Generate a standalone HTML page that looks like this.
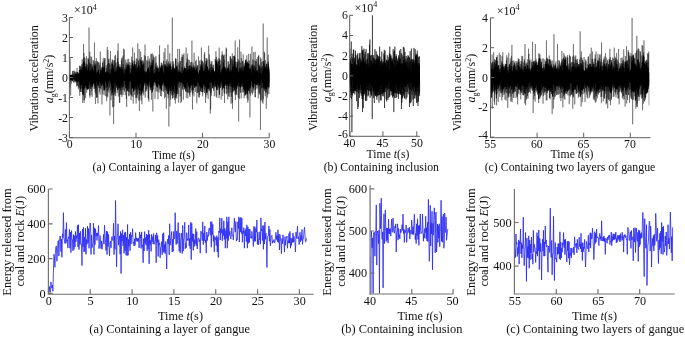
<!DOCTYPE html>
<html lang="en"><head><meta charset="utf-8"><title>Vibration acceleration and energy released</title>
<style>
html,body{margin:0;padding:0;background:#fff;}
svg{display:block;font-family:'Liberation Serif', serif;fill:#111;}
</style></head><body>
<svg width="685" height="337" viewBox="0 0 685 337">
<rect width="685" height="337" fill="#fff"/>
<polyline points="69.40,74.83 69.54,80.55 69.69,74.88 69.83,79.57 69.97,75.25 70.11,79.22 70.26,75.30 70.40,80.16 70.54,75.99 70.69,78.86 70.83,75.62 70.97,79.41 71.11,75.56 71.26,79.04 71.40,75.25 71.54,80.47 71.69,75.81 71.83,80.01 71.97,76.06 72.11,79.53 72.26,75.92 72.40,80.48 72.54,75.54 72.68,80.46 72.83,75.01 72.97,79.39 73.11,77.01 73.26,78.62 73.40,76.46 73.54,78.34 73.68,77.04 73.83,78.19 73.97,76.92 74.11,78.11 74.26,76.21 74.40,78.52 74.54,75.85 74.68,80.01 74.83,75.58 74.97,79.91 75.11,74.77 75.26,80.31 75.40,75.63 75.54,80.41 75.68,73.60 75.83,79.07 75.97,74.26 76.11,80.08 76.26,75.48 76.40,81.32 76.54,74.49 76.68,79.21 76.83,74.72 76.97,80.92 77.11,74.47 77.25,81.58 77.40,73.94 77.54,82.02 77.68,71.93 77.83,80.81 77.97,73.21 78.11,80.94 78.25,73.63 78.40,79.80 78.54,74.88 78.68,80.23 78.83,74.01 78.97,81.23 79.11,75.62 79.25,80.00 79.40,73.38 79.54,79.22 79.68,73.73 79.83,82.30 79.97,69.82 80.11,85.27 80.25,70.88 80.40,84.58 80.54,69.85 80.68,89.25 80.83,70.43 80.97,84.45 81.11,69.79 81.25,83.63 81.40,72.19 81.54,80.94 81.68,72.88 81.83,81.64 81.97,70.44 82.11,85.10 82.25,69.70 82.40,88.70 82.54,67.45 82.68,93.81 82.82,63.67 82.97,94.72 83.11,67.52 83.25,95.16 83.40,68.77 83.54,84.67 83.68,62.62 83.82,89.27 83.97,61.92 84.11,100.09 84.25,67.68 84.40,87.06 84.54,66.62 84.68,87.80 84.82,69.85 84.97,84.48 85.11,69.00 85.25,85.67 85.40,72.16 85.54,85.40 85.68,68.69 85.82,84.07 85.97,67.01 86.11,85.22 86.25,64.41 86.40,88.37 86.54,67.02 86.68,85.94 86.82,67.84 86.97,81.89 87.11,70.81 87.25,88.23 87.39,73.49 87.54,89.61 87.68,72.51 87.82,88.99 87.97,70.42 88.11,88.44 88.25,68.50 88.39,82.31 88.54,66.49 88.68,88.53 88.82,70.20 88.97,83.87 89.11,71.55 89.25,81.53 89.39,71.17 89.54,81.07 89.68,73.87 89.82,80.12 89.97,74.81 90.11,79.72 90.25,72.21 90.39,81.89 90.54,70.67 90.68,83.79 90.82,71.72 90.97,84.76 91.11,70.19 91.25,86.59 91.39,69.18 91.54,86.12 91.68,71.69 91.82,84.71 91.96,64.29 92.11,84.61 92.25,71.53 92.39,86.45 92.54,66.47 92.68,82.04 92.82,70.76 92.96,82.94 93.11,74.41 93.25,84.14 93.39,72.47 93.54,82.34 93.68,73.83 93.82,82.91 93.96,72.98 94.11,83.37 94.25,72.62 94.39,82.86 94.54,64.91 94.68,86.23 94.82,65.74 94.96,88.59 95.11,67.82 95.25,86.46 95.39,66.39 95.54,85.06 95.68,70.88 95.82,83.09 95.96,71.74 96.11,81.46 96.25,74.66 96.39,79.59 96.54,75.97 96.68,80.64 96.82,74.34 96.96,80.00 97.11,73.89 97.25,82.06 97.39,72.12 97.53,83.72 97.68,72.68 97.82,86.07 97.96,73.33 98.11,85.51 98.25,70.33 98.39,84.84 98.53,69.47 98.68,83.81 98.82,75.06 98.96,78.93 99.11,74.40 99.25,79.31 99.39,74.98 99.53,80.61 99.68,76.13 99.82,78.57 99.96,73.68 100.11,82.17 100.25,72.27 100.39,84.01 100.53,72.13 100.68,81.80 100.82,70.25 100.96,83.08 101.11,73.38 101.25,86.01 101.39,70.38 101.53,85.22 101.68,72.68 101.82,82.76 101.96,72.95 102.10,82.21 102.25,70.95 102.39,82.32 102.53,70.78 102.68,84.27 102.82,67.45 102.96,81.73 103.10,68.07 103.25,85.65 103.39,68.33 103.53,83.45 103.68,68.34 103.82,90.51 103.96,67.02 104.10,88.09 104.25,68.52 104.39,89.33 104.53,69.61 104.68,80.16 104.82,72.81 104.96,79.75 105.10,76.21 105.25,80.83 105.39,72.40 105.53,81.27 105.68,74.92 105.82,80.42 105.96,72.21 106.10,81.78 106.25,73.23 106.39,81.81 106.53,72.81 106.68,83.71 106.82,70.96 106.96,84.21 107.10,72.58 107.25,85.86 107.39,71.48 107.53,86.94 107.67,73.14 107.82,83.32 107.96,72.30 108.10,80.19 108.25,72.71 108.39,81.29 108.53,75.14 108.67,80.79 108.82,74.50 108.96,78.32 109.10,74.58 109.25,80.19 109.39,74.70 109.53,79.42 109.67,74.96 109.82,80.12 109.96,73.83 110.10,80.52 110.25,74.74 110.39,81.44 110.53,74.91 110.67,80.55 110.82,75.64 110.96,83.42 111.10,71.69 111.25,83.96 111.39,70.56 111.53,84.47 111.67,69.13 111.82,86.05 111.96,67.55 112.10,89.45 112.24,59.43 112.39,92.88 112.53,64.15 112.67,88.77 112.82,66.84 112.96,95.16 113.10,64.58 113.24,88.04 113.39,69.07 113.53,83.27 113.67,70.18 113.82,85.84 113.96,72.09 114.10,82.66 114.24,72.79 114.39,82.27 114.53,75.11 114.67,81.22 114.82,74.65 114.96,81.99 115.10,74.64 115.24,81.87 115.39,71.74 115.53,81.60 115.67,73.35 115.82,83.21 115.96,71.72 116.10,81.90 116.24,70.34 116.39,87.79 116.53,71.24 116.67,83.93 116.82,72.59 116.96,85.21 117.10,72.70 117.24,82.83 117.39,66.51 117.53,83.85 117.67,66.22 117.81,89.83 117.96,68.39 118.10,86.96 118.24,65.44 118.39,84.51 118.53,71.59 118.67,81.82 118.81,70.37 118.96,87.83 119.10,67.78 119.24,83.53 119.39,70.79 119.53,85.59 119.67,66.82 119.81,87.05 119.96,66.79 120.10,88.12 120.24,68.99 120.39,86.03 120.53,69.10 120.67,84.67 120.81,69.64 120.96,87.46 121.10,70.10 121.24,83.94 121.39,74.05 121.53,84.99 121.67,74.21 121.81,82.14 121.96,67.52 122.10,87.56 122.24,69.30 122.38,81.94 122.53,70.23 122.67,83.61 122.81,69.50 122.96,87.16 123.10,72.21 123.24,80.63 123.38,75.44 123.53,79.93 123.67,75.15 123.81,79.18 123.96,74.95 124.10,79.18 124.24,74.26 124.38,80.70 124.53,74.28 124.67,79.65 124.81,74.68 124.96,79.88 125.10,74.79 125.24,81.06 125.38,74.41 125.53,80.92 125.67,69.51 125.81,84.44 125.96,69.04 126.10,88.33 126.24,72.90 126.38,84.67 126.53,67.63 126.67,88.27 126.81,68.53 126.95,90.74 127.10,66.36 127.24,84.58 127.38,69.51 127.53,90.75 127.67,65.31 127.81,82.52 127.95,63.35 128.10,88.95 128.24,64.83 128.38,85.12 128.53,70.41 128.67,82.25 128.81,67.08 128.95,82.60 129.10,70.72 129.24,80.89 129.38,73.69 129.53,79.26 129.67,74.78 129.81,81.18 129.95,75.66 130.10,81.10 130.24,74.54 130.38,79.41 130.53,75.10 130.67,80.16 130.81,74.03 130.95,80.99 131.10,73.81 131.24,82.62 131.38,72.86 131.53,82.28 131.67,69.25 131.81,89.01 131.95,71.72 132.10,88.20 132.24,68.34 132.38,85.89 132.52,62.97 132.67,87.69 132.81,60.49 132.95,86.98 133.10,63.99 133.24,88.98 133.38,67.83 133.52,91.54 133.67,66.11 133.81,91.27 133.95,65.98 134.10,85.51 134.24,66.66 134.38,88.43 134.52,64.34 134.67,85.01 134.81,67.88 134.95,82.42 135.10,66.60 135.24,83.93 135.38,72.86 135.52,86.94 135.67,64.45 135.81,83.49 135.95,70.04 136.10,86.11 136.24,70.10 136.38,88.98 136.52,69.99 136.67,84.55 136.81,68.35 136.95,83.03 137.09,70.45 137.24,81.74 137.38,73.77 137.52,80.34 137.67,67.88 137.81,84.05 137.95,68.78 138.09,86.56 138.24,67.08 138.38,88.27 138.52,60.59 138.67,85.50 138.81,71.15 138.95,85.38 139.09,70.82 139.24,89.74 139.38,65.79 139.52,84.03 139.67,72.39 139.81,84.48 139.95,67.45 140.09,79.57 140.24,69.71 140.38,82.35 140.52,68.09 140.67,83.10 140.81,69.28 140.95,83.32 141.09,69.42 141.24,94.22 141.38,61.66 141.52,89.54 141.67,66.90 141.81,84.20 141.95,64.97 142.09,91.18 142.24,64.40 142.38,90.13 142.52,68.86 142.66,89.51 142.81,65.69 142.95,93.28 143.09,60.45 143.24,87.81 143.38,69.57 143.52,86.67 143.66,70.38 143.81,83.67 143.95,70.64 144.09,81.91 144.24,71.02 144.38,82.38 144.52,72.54 144.66,81.70 144.81,74.00 144.95,80.79 145.09,73.17 145.24,81.59 145.38,72.25 145.52,82.47 145.66,74.40 145.81,82.60 145.95,74.31 146.09,81.78 146.24,72.72 146.38,79.73 146.52,71.97 146.66,83.33 146.81,71.82 146.95,83.08 147.09,71.52 147.23,82.62 147.38,70.61 147.52,84.20 147.66,68.97 147.81,83.23 147.95,68.17 148.09,86.54 148.23,69.47 148.38,84.31 148.52,69.56 148.66,80.62 148.81,72.18 148.95,81.48 149.09,74.33 149.23,80.36 149.38,75.38 149.52,79.92 149.66,73.87 149.81,81.80 149.95,72.36 150.09,80.93 150.23,69.63 150.38,87.62 150.52,66.90 150.66,86.86 150.81,72.23 150.95,89.82 151.09,67.72 151.23,80.67 151.38,65.55 151.52,83.89 151.66,70.49 151.81,86.55 151.95,62.71 152.09,87.07 152.23,66.48 152.38,91.89 152.52,64.56 152.66,85.33 152.80,70.90 152.95,81.50 153.09,73.18 153.23,82.76 153.38,72.81 153.52,81.47 153.66,72.97 153.80,80.09 153.95,74.39 154.09,81.30 154.23,73.75 154.38,81.77 154.52,73.85 154.66,80.48 154.80,73.91 154.95,79.89 155.09,75.60 155.23,82.01 155.38,73.15 155.52,82.89 155.66,74.61 155.80,82.85 155.95,72.14 156.09,82.73 156.23,74.77 156.38,84.44 156.52,67.56 156.66,86.57 156.80,70.55 156.95,85.87 157.09,67.32 157.23,80.01 157.37,69.60 157.52,86.60 157.66,68.51 157.80,87.83 157.95,69.24 158.09,83.46 158.23,72.31 158.37,82.73 158.52,74.06 158.66,81.47 158.80,72.31 158.95,84.27 159.09,73.03 159.23,82.43 159.37,71.92 159.52,85.09 159.66,71.82 159.80,85.79 159.95,73.10 160.09,83.38 160.23,71.37 160.37,85.90 160.52,67.83 160.66,82.33 160.80,70.58 160.95,88.71 161.09,68.47 161.23,84.14 161.37,62.62 161.52,90.32 161.66,65.27 161.80,86.24 161.94,65.53 162.09,85.45 162.23,67.36 162.37,82.80 162.52,72.58 162.66,83.64 162.80,73.29 162.94,83.11 163.09,72.95 163.23,80.29 163.37,74.18 163.52,80.03 163.66,74.32 163.80,79.59 163.94,75.08 164.09,81.93 164.23,70.97 164.37,85.07 164.52,71.62 164.66,84.56 164.80,66.89 164.94,85.37 165.09,71.08 165.23,87.23 165.37,66.25 165.52,85.52 165.66,71.69 165.80,84.05 165.94,64.49 166.09,86.06 166.23,67.43 166.37,88.09 166.52,66.47 166.66,85.45 166.80,68.15 166.94,83.41 167.09,70.57 167.23,83.07 167.37,66.76 167.51,86.23 167.66,69.91 167.80,86.77 167.94,67.33 168.09,90.86 168.23,71.21 168.37,85.41 168.51,67.93 168.66,94.84 168.80,65.25 168.94,86.43 169.09,66.96 169.23,90.80 169.37,69.76 169.51,84.94 169.66,66.23 169.80,87.34 169.94,67.00 170.09,85.18 170.23,63.79 170.37,90.51 170.51,67.49 170.66,87.61 170.80,73.87 170.94,86.98 171.09,70.20 171.23,85.62 171.37,69.43 171.51,83.35 171.66,74.15 171.80,84.53 171.94,72.27 172.08,83.78 172.23,71.37 172.37,84.63 172.51,74.48 172.66,89.55 172.80,67.27 172.94,90.64 173.08,61.28 173.23,88.33 173.37,72.11 173.51,85.45 173.66,70.70 173.80,85.96 173.94,67.84 174.08,81.50 174.23,68.17 174.37,82.19 174.51,69.07 174.66,84.99 174.80,70.25 174.94,85.71 175.08,69.81 175.23,85.73 175.37,71.70 175.51,89.24 175.66,58.33 175.80,98.00 175.94,59.18 176.08,93.23 176.23,67.38 176.37,93.48 176.51,67.60 176.66,85.87 176.80,71.05 176.94,83.35 177.08,73.36 177.23,81.47 177.37,74.88 177.51,80.80 177.65,71.33 177.80,81.39 177.94,73.63 178.08,82.39 178.23,72.40 178.37,80.32 178.51,73.97 178.65,81.73 178.80,74.09 178.94,80.84 179.08,72.44 179.23,80.70 179.37,73.04 179.51,81.53 179.65,70.58 179.80,79.73 179.94,73.69 180.08,81.21 180.23,72.76 180.37,81.91 180.51,72.44 180.65,79.54 180.80,72.98 180.94,81.20 181.08,73.90 181.23,83.05 181.37,73.73 181.51,79.62 181.65,73.24 181.80,80.07 181.94,74.15 182.08,81.88 182.22,73.10 182.37,83.66 182.51,73.12 182.65,80.41 182.80,73.10 182.94,82.01 183.08,73.27 183.22,84.91 183.37,72.01 183.51,80.48 183.65,69.82 183.80,83.55 183.94,70.76 184.08,83.90 184.22,69.88 184.37,84.37 184.51,67.86 184.65,86.08 184.80,68.36 184.94,87.34 185.08,71.91 185.22,86.87 185.37,68.16 185.51,88.18 185.65,71.34 185.80,91.32 185.94,68.34 186.08,82.87 186.22,73.73 186.37,83.23 186.51,72.39 186.65,81.01 186.79,73.68 186.94,80.22 187.08,73.88 187.22,80.03 187.37,74.16 187.51,82.29 187.65,70.15 187.79,81.03 187.94,72.63 188.08,82.33 188.22,69.00 188.37,82.69 188.51,70.40 188.65,86.19 188.79,70.72 188.94,84.75 189.08,68.48 189.22,82.03 189.37,70.76 189.51,87.64 189.65,65.54 189.79,88.31 189.94,71.85 190.08,86.75 190.22,65.60 190.37,87.45 190.51,70.15 190.65,82.47 190.79,70.45 190.94,82.38 191.08,73.47 191.22,82.47 191.37,67.64 191.51,85.67 191.65,66.59 191.79,84.96 191.94,66.57 192.08,84.51 192.22,69.95 192.36,89.67 192.51,69.68 192.65,82.44 192.79,72.41 192.94,82.96 193.08,70.70 193.22,82.12 193.36,74.57 193.51,83.07 193.65,71.06 193.79,84.49 193.94,67.89 194.08,85.27 194.22,68.74 194.36,82.40 194.51,68.98 194.65,88.00 194.79,69.67 194.94,84.21 195.08,71.12 195.22,86.55 195.36,72.99 195.51,83.52 195.65,70.23 195.79,85.68 195.94,71.14 196.08,85.88 196.22,70.01 196.36,86.08 196.51,69.56 196.65,82.97 196.79,69.88 196.93,86.50 197.08,72.63 197.22,83.03 197.36,71.49 197.51,80.38 197.65,74.14 197.79,79.25 197.93,74.31 198.08,81.48 198.22,73.71 198.36,79.78 198.51,74.57 198.65,80.27 198.79,74.24 198.93,82.83 199.08,74.75 199.22,83.95 199.36,72.00 199.51,85.91 199.65,70.81 199.79,82.90 199.93,69.98 200.08,86.40 200.22,69.60 200.36,86.85 200.51,70.18 200.65,81.08 200.79,66.36 200.93,88.26 201.08,67.97 201.22,87.02 201.36,65.03 201.51,86.40 201.65,68.79 201.79,88.41 201.93,61.40 202.08,85.16 202.22,60.82 202.36,87.63 202.50,69.29 202.65,92.38 202.79,67.83 202.93,83.05 203.08,70.91 203.22,84.98 203.36,71.15 203.50,81.05 203.65,73.22 203.79,82.52 203.93,73.40 204.08,84.06 204.22,70.73 204.36,83.81 204.50,70.88 204.65,85.32 204.79,69.89 204.93,83.69 205.08,71.24 205.22,86.54 205.36,70.27 205.50,86.11 205.65,67.97 205.79,86.30 205.93,64.07 206.08,84.50 206.22,65.40 206.36,86.97 206.50,61.52 206.65,92.78 206.79,72.92 206.93,84.56 207.07,66.42 207.22,88.63 207.36,66.69 207.50,86.21 207.65,67.56 207.79,87.85 207.93,69.05 208.07,88.39 208.22,74.40 208.36,87.24 208.50,71.61 208.65,87.83 208.79,70.08 208.93,83.21 209.07,69.52 209.22,82.64 209.36,72.67 209.50,80.91 209.65,71.99 209.79,83.21 209.93,71.78 210.07,81.26 210.22,73.03 210.36,80.66 210.50,74.57 210.65,81.02 210.79,73.36 210.93,80.66 211.07,73.88 211.22,81.69 211.36,72.47 211.50,81.54 211.65,70.08 211.79,82.84 211.93,70.65 212.07,82.14 212.22,70.93 212.36,84.20 212.50,71.96 212.64,87.90 212.79,69.67 212.93,88.65 213.07,67.74 213.22,83.87 213.36,70.51 213.50,86.15 213.64,69.89 213.79,84.70 213.93,71.38 214.07,80.57 214.22,72.15 214.36,79.52 214.50,72.10 214.64,81.29 214.79,73.56 214.93,82.50 215.07,71.15 215.22,81.51 215.36,73.61 215.50,83.60 215.64,73.21 215.79,85.70 215.93,59.60 216.07,86.94 216.22,60.96 216.36,86.34 216.50,62.24 216.64,89.69 216.79,65.54 216.93,89.74 217.07,64.39 217.21,84.91 217.36,72.02 217.50,80.26 217.64,74.41 217.79,79.83 217.93,74.41 218.07,80.07 218.21,72.18 218.36,79.70 218.50,71.61 218.64,87.45 218.79,68.96 218.93,85.77 219.07,67.06 219.21,84.55 219.36,66.01 219.50,94.96 219.64,65.18 219.79,83.06 219.93,72.43 220.07,82.36 220.21,71.81 220.36,80.29 220.50,75.09 220.64,80.62 220.79,74.47 220.93,79.69 221.07,75.82 221.21,78.94 221.36,75.15 221.50,78.79 221.64,72.79 221.78,81.20 221.93,71.68 222.07,86.36 222.21,68.83 222.36,82.44 222.50,67.61 222.64,88.89 222.78,70.24 222.93,84.57 223.07,67.77 223.21,83.28 223.36,62.31 223.50,81.17 223.64,69.78 223.78,87.75 223.93,67.34 224.07,88.39 224.21,66.97 224.36,86.03 224.50,66.48 224.64,80.63 224.78,70.39 224.93,82.82 225.07,70.91 225.21,84.18 225.36,72.78 225.50,82.71 225.64,69.80 225.78,84.29 225.93,72.71 226.07,85.96 226.21,69.55 226.36,80.05 226.50,73.41 226.64,83.23 226.78,73.57 226.93,81.15 227.07,73.75 227.21,81.53 227.35,72.12 227.50,83.29 227.64,67.88 227.78,85.48 227.93,69.04 228.07,84.17 228.21,67.50 228.35,85.02 228.50,68.37 228.64,89.19 228.78,68.27 228.93,86.09 229.07,70.26 229.21,83.27 229.35,72.78 229.50,81.45 229.64,72.75 229.78,80.15 229.93,72.14 230.07,81.72 230.21,73.88 230.35,81.86 230.50,72.97 230.64,83.99 230.78,72.04 230.93,87.08 231.07,71.62 231.21,80.27 231.35,71.64 231.50,80.64 231.64,70.75 231.78,86.12 231.92,69.68 232.07,81.72 232.21,72.04 232.35,88.30 232.50,69.29 232.64,85.34 232.78,67.07 232.92,91.30 233.07,66.22 233.21,86.18 233.35,68.26 233.50,87.49 233.64,70.21 233.78,83.98 233.92,67.66 234.07,85.11 234.21,66.60 234.35,89.79 234.50,56.36 234.64,87.82 234.78,63.97 234.92,91.04 235.07,61.84 235.21,94.68 235.35,66.83 235.50,86.21 235.64,71.89 235.78,84.58 235.92,67.13 236.07,86.42 236.21,71.12 236.35,85.71 236.50,67.81 236.64,89.11 236.78,68.51 236.92,87.90 237.07,71.91 237.21,85.07 237.35,62.05 237.49,81.39 237.64,69.39 237.78,85.85 237.92,71.33 238.07,82.18 238.21,72.24 238.35,82.35 238.49,73.03 238.64,79.64 238.78,73.21 238.92,81.00 239.07,73.38 239.21,83.06 239.35,70.94 239.49,84.83 239.64,72.17 239.78,85.68 239.92,68.43 240.07,86.89 240.21,67.26 240.35,84.84 240.49,69.93 240.64,87.60 240.78,72.28 240.92,86.50 241.07,70.30 241.21,84.88 241.35,73.45 241.49,83.07 241.64,70.61 241.78,85.49 241.92,69.98 242.06,82.90 242.21,72.40 242.35,81.67 242.49,71.38 242.64,82.73 242.78,70.78 242.92,86.38 243.06,71.26 243.21,81.41 243.35,72.04 243.49,82.05 243.64,72.11 243.78,89.00 243.92,68.16 244.06,82.77 244.21,66.32 244.35,90.79 244.49,68.18 244.64,86.39 244.78,67.02 244.92,90.47 245.06,63.06 245.21,94.02 245.35,60.63 245.49,94.50 245.64,59.78 245.78,92.57 245.92,70.35 246.06,89.16 246.21,64.71 246.35,87.84 246.49,63.04 246.64,87.97 246.78,68.70 246.92,94.46 247.06,62.95 247.21,90.63 247.35,61.93 247.49,93.39 247.63,64.21 247.78,81.33 247.92,67.77 248.06,87.83 248.21,69.09 248.35,89.33 248.49,63.23 248.63,86.27 248.78,71.03 248.92,91.15 249.06,70.39 249.21,82.61 249.35,69.31 249.49,86.26 249.63,70.92 249.78,88.04 249.92,69.67 250.06,84.40 250.21,67.79 250.35,88.37 250.49,70.64 250.63,85.50 250.78,71.63 250.92,85.65 251.06,74.98 251.21,80.72 251.35,75.21 251.49,79.73 251.63,74.73 251.78,80.37 251.92,73.39 252.06,82.02 252.20,73.06 252.35,83.00 252.49,69.00 252.63,87.00 252.78,65.61 252.92,87.08 253.06,66.76 253.20,88.51 253.35,70.12 253.49,81.25 253.63,73.60 253.78,80.71 253.92,70.27 254.06,81.15 254.20,71.29 254.35,82.85 254.49,70.47 254.63,84.02 254.78,72.14 254.92,83.10 255.06,71.03 255.20,84.42 255.35,71.75 255.49,84.27 255.63,67.59 255.78,81.06 255.92,70.44 256.06,82.25 256.20,71.12 256.35,84.68 256.49,71.97 256.63,84.21 256.77,74.37 256.92,85.18 257.06,72.29 257.20,85.23 257.35,70.43 257.49,79.48 257.63,72.55 257.77,83.56 257.92,70.30 258.06,82.20 258.20,73.46 258.35,79.53 258.49,73.13 258.63,82.32 258.77,73.86 258.92,81.49 259.06,74.76 259.20,84.58 259.35,66.58 259.49,85.30 259.63,68.78 259.77,84.59 259.92,73.32 260.06,84.86 260.20,74.18 260.35,81.97 260.49,72.69 260.63,82.75 260.77,73.07 260.92,81.59 261.06,74.82 261.20,79.44 261.35,74.90 261.49,79.55 261.63,75.87 261.77,79.15 261.92,75.30 262.06,78.74 262.20,75.91 262.34,78.89 262.49,74.83 262.63,81.15 262.77,70.79 262.92,80.66 263.06,72.15 263.20,87.29 263.34,69.00 263.49,86.77 263.63,61.05 263.77,88.25 263.92,69.13 264.06,85.46 264.20,63.82 264.34,90.79 264.49,70.22 264.63,85.53 264.77,65.64 264.92,88.75 265.06,69.95 265.20,87.86 265.34,67.43 265.49,81.92 265.63,69.29 265.77,87.87 265.92,69.42 266.06,81.47 266.20,68.51 266.34,89.04 266.49,64.29 266.63,80.89 266.77,63.65 266.91,82.57 267.06,68.82 267.20,86.28 267.34,69.28 267.49,84.39 267.63,72.80 267.77,86.17 267.91,71.18 268.06,80.03 268.20,61.63 268.34,88.40 268.49,64.00 268.63,83.79 268.77,66.86 268.91,86.91 269.06,69.69 269.20,81.90" fill="none" stroke="#000" stroke-width="0.5" stroke-linejoin="round"/>
<polyline points="69.40,75.68 69.58,81.38 69.76,74.94 69.95,87.56 70.13,58.50 70.31,79.64 70.49,75.72 70.67,95.50 70.85,76.28 71.04,79.89 71.22,75.12 71.40,83.60 71.58,74.40 71.76,79.76 71.95,76.28 72.13,78.88 72.31,73.58 72.49,81.08 72.67,70.84 72.85,80.12 73.04,71.03 73.22,82.14 73.40,73.47 73.58,78.71 73.76,76.29 73.95,83.20 74.13,70.33 74.31,81.97 74.49,71.79 74.67,80.58 74.85,74.35 75.04,79.99 75.22,71.36 75.40,82.22 75.58,74.07 75.76,80.72 75.94,72.33 76.13,82.26 76.31,75.23 76.49,86.38 76.67,72.05 76.85,82.54 77.04,67.87 77.22,86.18 77.40,72.03 77.58,85.32 77.76,75.01 77.94,81.66 78.13,75.47 78.31,89.34 78.49,75.32 78.67,87.93 78.85,73.34 79.04,81.12 79.22,70.08 79.40,87.39 79.58,65.58 79.76,95.75 79.94,66.19 80.13,91.99 80.31,70.89 80.49,91.85 80.67,66.08 80.85,85.48 81.04,67.03 81.22,88.45 81.40,64.62 81.58,92.09 81.76,68.81 81.94,84.77 82.13,59.42 82.31,81.40 82.49,68.85 82.67,102.85 82.85,73.42 83.04,85.80 83.22,58.64 83.40,81.58 83.58,44.08 83.76,81.57 83.94,53.02 84.13,102.85 84.31,57.06 84.49,89.28 84.67,61.39 84.85,84.13 85.03,58.09 85.22,82.42 85.40,66.30 85.58,98.08 85.76,72.60 85.94,87.89 86.13,63.29 86.31,81.38 86.49,56.18 86.67,92.77 86.85,73.67 87.03,89.85 87.22,70.39 87.40,85.41 87.58,64.48 87.76,84.96 87.94,58.46 88.13,84.91 88.31,58.55 88.49,89.35 88.67,59.59 88.85,85.87 89.03,27.50 89.22,81.69 89.40,61.77 89.58,95.57 89.76,51.66 89.94,97.78 90.13,64.14 90.31,87.80 90.49,63.29 90.67,88.96 90.85,56.31 91.03,95.28 91.22,71.36 91.40,84.61 91.58,56.97 91.76,91.12 91.94,67.40 92.13,96.90 92.31,68.39 92.49,87.34 92.67,68.84 92.85,81.02 93.03,60.02 93.22,81.27 93.40,69.45 93.58,84.41 93.76,60.71 93.94,89.00 94.13,65.39 94.31,81.12 94.49,42.50 94.67,81.15 94.85,63.19 95.03,92.27 95.22,65.32 95.40,104.03 95.58,61.43 95.76,94.10 95.94,64.02 96.12,88.66 96.31,58.12 96.49,97.90 96.67,73.71 96.85,97.68 97.03,61.13 97.22,97.10 97.40,61.41 97.58,81.33 97.76,73.15 97.94,103.45 98.12,62.86 98.31,81.35 98.49,62.15 98.67,87.72 98.85,73.65 99.03,81.35 99.22,73.65 99.40,92.29 99.58,65.03 99.76,88.52 99.94,62.65 100.12,94.61 100.31,51.50 100.49,88.10 100.67,70.69 100.85,81.40 101.03,68.70 101.22,89.32 101.40,66.72 101.58,81.30 101.76,68.29 101.94,104.46 102.12,72.36 102.31,81.28 102.49,62.94 102.67,94.33 102.85,61.61 103.03,82.16 103.22,57.83 103.40,84.54 103.58,72.94 103.76,85.80 103.94,65.63 104.12,95.24 104.31,60.37 104.49,90.04 104.67,58.09 104.85,90.84 105.03,58.26 105.21,81.35 105.40,73.64 105.58,96.04 105.76,73.62 105.94,88.29 106.12,65.18 106.31,87.00 106.49,67.71 106.67,101.03 106.85,73.53 107.03,97.42 107.21,46.90 107.40,91.09 107.58,64.18 107.76,96.54 107.94,49.96 108.12,82.02 108.31,63.15 108.49,89.78 108.67,59.40 108.85,92.55 109.03,58.51 109.21,88.09 109.40,63.19 109.58,86.19 109.76,68.74 109.94,115.50 110.12,64.60 110.31,82.28 110.49,51.05 110.67,90.49 110.85,73.28 111.03,100.26 111.21,69.37 111.40,95.54 111.58,63.62 111.76,93.47 111.94,62.19 112.12,86.93 112.31,63.28 112.49,107.22 112.67,73.35 112.85,91.79 113.03,60.41 113.21,83.08 113.40,73.41 113.58,124.10 113.76,66.82 113.94,106.66 114.12,60.09 114.31,91.39 114.49,60.70 114.67,95.40 114.85,55.67 115.03,93.75 115.21,63.46 115.40,91.71 115.58,54.86 115.76,96.18 115.94,71.94 116.12,85.65 116.30,62.53 116.49,85.66 116.67,67.63 116.85,83.26 117.03,66.90 117.21,92.83 117.40,58.25 117.58,89.87 117.76,50.89 117.94,89.22 118.12,43.31 118.30,96.58 118.49,61.91 118.67,86.26 118.85,73.85 119.03,88.60 119.21,64.12 119.40,102.81 119.58,73.85 119.76,102.72 119.94,67.04 120.12,94.66 120.30,73.84 120.49,90.68 120.67,67.63 120.85,94.47 121.03,64.59 121.21,81.90 121.40,58.61 121.58,94.67 121.76,60.97 121.94,96.93 122.12,57.39 122.30,89.79 122.49,73.76 122.67,81.24 122.85,55.51 123.03,95.02 123.21,64.25 123.40,86.98 123.58,48.50 123.76,90.23 123.94,67.32 124.12,85.13 124.30,49.63 124.49,91.68 124.67,69.22 124.85,81.27 125.03,70.08 125.21,95.10 125.39,59.65 125.58,88.46 125.76,64.66 125.94,87.81 126.12,72.82 126.30,98.98 126.49,62.54 126.67,107.03 126.85,70.43 127.03,88.83 127.21,59.17 127.39,88.03 127.58,73.85 127.76,83.16 127.94,64.70 128.12,91.92 128.30,66.09 128.49,96.31 128.67,58.80 128.85,91.65 129.03,65.37 129.21,87.73 129.39,61.90 129.58,95.55 129.76,65.21 129.94,92.38 130.12,67.80 130.30,81.06 130.49,72.31 130.67,94.49 130.85,62.62 131.03,100.05 131.21,65.20 131.39,95.25 131.58,56.62 131.76,96.21 131.94,69.58 132.12,88.32 132.30,64.50 132.49,82.92 132.67,47.50 132.85,96.83 133.03,68.51 133.21,103.62 133.39,67.09 133.58,88.58 133.76,66.61 133.94,85.10 134.12,61.81 134.30,90.42 134.48,52.65 134.67,94.83 134.85,60.59 135.03,88.93 135.21,73.56 135.39,90.03 135.58,70.58 135.76,97.95 135.94,64.34 136.12,103.54 136.30,58.41 136.48,97.43 136.67,62.12 136.85,92.76 137.03,58.76 137.21,98.38 137.39,69.23 137.58,95.14 137.76,43.25 137.94,90.67 138.12,65.61 138.30,85.99 138.48,73.33 138.67,100.73 138.85,63.10 139.03,93.77 139.21,49.14 139.39,111.04 139.58,70.55 139.76,99.61 139.94,58.78 140.12,94.44 140.30,59.97 140.48,91.11 140.67,51.46 140.85,95.96 141.03,61.16 141.21,100.71 141.39,57.04 141.58,94.57 141.76,61.49 141.94,104.28 142.12,60.21 142.30,90.22 142.48,70.57 142.67,88.24 142.85,72.05 143.03,91.53 143.21,62.40 143.39,81.44 143.58,64.24 143.76,95.36 143.94,63.22 144.12,83.54 144.30,55.23 144.48,85.40 144.67,73.48 144.85,82.59 145.03,44.50 145.21,97.55 145.39,56.14 145.57,91.92 145.76,73.25 145.94,85.64 146.12,71.11 146.30,89.11 146.48,73.63 146.67,91.23 146.85,59.88 147.03,89.36 147.21,61.20 147.39,83.63 147.57,73.61 147.76,85.84 147.94,56.01 148.12,98.08 148.30,67.80 148.48,99.41 148.67,66.81 148.85,101.74 149.03,60.83 149.21,87.29 149.39,58.49 149.57,84.92 149.76,71.27 149.94,81.45 150.12,62.43 150.30,90.26 150.48,64.92 150.67,87.61 150.85,53.74 151.03,87.49 151.21,69.73 151.39,99.76 151.57,54.00 151.76,93.02 151.94,73.60 152.12,86.10 152.30,60.10 152.48,90.53 152.67,53.41 152.85,111.50 153.03,59.87 153.21,85.73 153.39,55.42 153.57,89.57 153.76,57.67 153.94,85.44 154.12,73.77 154.30,82.15 154.48,69.39 154.66,82.69 154.85,57.06 155.03,98.79 155.21,63.56 155.39,82.53 155.57,66.32 155.76,84.82 155.94,55.92 156.12,91.42 156.30,62.48 156.48,86.60 156.66,73.99 156.85,84.10 157.03,73.18 157.21,91.52 157.39,65.30 157.57,83.85 157.76,68.48 157.94,99.19 158.12,72.19 158.30,83.07 158.48,67.45 158.66,84.50 158.85,68.74 159.03,92.52 159.21,54.63 159.39,80.98 159.57,45.50 159.76,89.44 159.94,66.34 160.12,88.01 160.30,67.96 160.48,96.03 160.66,68.72 160.85,88.59 161.03,65.50 161.21,90.29 161.39,66.55 161.57,96.52 161.76,65.32 161.94,91.01 162.12,65.49 162.30,82.92 162.48,70.84 162.66,82.64 162.85,63.52 163.03,85.09 163.21,72.37 163.39,92.00 163.57,60.87 163.76,81.37 163.94,52.26 164.12,90.72 164.30,65.24 164.48,98.41 164.66,63.88 164.85,86.18 165.03,48.07 165.21,82.72 165.39,65.00 165.57,97.05 165.75,72.22 165.94,90.01 166.12,61.33 166.30,108.73 166.48,70.88 166.66,90.43 166.85,59.29 167.03,91.39 167.21,73.21 167.39,93.81 167.57,63.45 167.75,94.05 167.94,44.50 168.12,98.23 168.30,61.29 168.48,92.96 168.66,72.48 168.85,126.50 169.03,62.77 169.21,87.63 169.39,63.71 169.57,84.49 169.75,53.22 169.94,106.28 170.12,67.34 170.30,93.42 170.48,66.23 170.66,99.69 170.85,61.36 171.03,91.03 171.21,66.16 171.39,91.39 171.57,71.83 171.75,95.42 171.94,69.72 172.12,94.42 172.30,17.50 172.48,98.58 172.66,64.56 172.85,98.12 173.03,71.19 173.21,95.15 173.39,65.99 173.57,92.15 173.75,63.73 173.94,97.77 174.12,73.51 174.30,93.28 174.48,73.48 174.66,100.04 174.84,73.46 175.03,83.38 175.21,73.44 175.39,103.59 175.57,73.42 175.75,92.02 175.94,67.94 176.12,81.61 176.30,66.37 176.48,96.39 176.66,65.15 176.84,98.61 177.03,66.50 177.21,91.38 177.39,66.66 177.57,94.02 177.75,48.87 177.94,94.16 178.12,62.15 178.30,86.51 178.48,69.56 178.66,102.64 178.84,72.35 179.03,84.18 179.21,64.55 179.39,87.89 179.57,48.89 179.75,81.57 179.94,61.22 180.12,96.38 180.30,72.54 180.48,86.02 180.66,60.96 180.84,102.88 181.03,71.15 181.21,81.43 181.39,57.32 181.57,101.59 181.75,67.03 181.94,81.35 182.12,54.32 182.30,88.77 182.48,56.90 182.66,89.75 182.84,67.65 183.03,86.76 183.21,54.91 183.39,99.71 183.57,73.83 183.75,83.26 183.94,53.26 184.12,87.08 184.30,73.89 184.48,89.51 184.66,66.29 184.84,88.75 185.03,68.83 185.21,87.28 185.39,68.71 185.57,91.52 185.75,71.10 185.93,87.36 186.12,47.50 186.30,97.92 186.48,63.26 186.66,88.55 186.84,62.16 187.03,92.00 187.21,58.45 187.39,92.71 187.57,53.67 187.75,98.37 187.93,65.86 188.12,86.66 188.30,59.58 188.48,93.00 188.66,66.10 188.84,81.12 189.03,73.86 189.21,92.04 189.39,60.02 189.57,95.26 189.75,73.82 189.93,96.98 190.12,68.87 190.30,92.58 190.48,62.19 190.66,84.32 190.84,69.18 191.03,81.25 191.21,71.44 191.39,81.26 191.57,61.85 191.75,90.51 191.93,40.50 192.12,92.63 192.30,69.39 192.48,109.50 192.66,67.65 192.84,94.45 193.03,62.64 193.21,83.10 193.39,64.88 193.57,90.49 193.75,67.09 193.93,96.41 194.12,52.84 194.30,87.45 194.48,67.44 194.66,81.25 194.84,65.92 195.02,86.91 195.21,73.77 195.39,91.95 195.57,60.97 195.75,84.77 195.93,67.72 196.12,83.14 196.30,59.87 196.48,81.20 196.66,67.36 196.84,103.31 197.02,64.85 197.21,93.03 197.39,66.22 197.57,81.67 197.75,65.43 197.93,92.61 198.12,72.27 198.30,92.20 198.48,56.51 198.66,97.31 198.84,73.78 199.02,83.11 199.21,73.76 199.39,97.51 199.57,60.68 199.75,95.04 199.93,71.12 200.12,81.85 200.30,64.24 200.48,90.99 200.66,70.84 200.84,91.40 201.02,59.88 201.21,92.16 201.39,47.50 201.57,81.44 201.75,66.24 201.93,91.97 202.12,66.14 202.30,87.65 202.48,69.29 202.66,96.42 202.84,64.35 203.02,92.05 203.21,71.30 203.39,86.43 203.57,62.47 203.75,83.50 203.93,73.34 204.12,88.82 204.30,54.15 204.48,92.97 204.66,52.01 204.84,90.48 205.02,65.91 205.21,81.72 205.39,67.99 205.57,102.94 205.75,60.83 205.93,97.38 206.11,57.86 206.30,91.48 206.48,65.08 206.66,92.46 206.84,58.22 207.02,95.06 207.21,59.71 207.39,92.60 207.57,69.65 207.75,89.28 207.93,71.02 208.11,98.97 208.30,73.40 208.48,89.45 208.66,45.73 208.84,88.41 209.02,72.64 209.21,90.75 209.39,54.50 209.57,89.57 209.75,59.73 209.93,91.40 210.11,67.15 210.30,113.66 210.48,63.99 210.66,109.50 210.84,68.17 211.02,93.08 211.21,61.76 211.39,95.78 211.57,63.78 211.75,81.30 211.93,61.09 212.11,87.91 212.30,66.95 212.48,81.26 212.66,69.01 212.84,84.89 213.02,65.26 213.21,81.24 213.39,64.67 213.57,90.84 213.75,72.89 213.93,85.59 214.11,71.05 214.30,96.34 214.48,73.76 214.66,87.58 214.84,73.75 215.02,86.98 215.20,59.00 215.39,85.60 215.57,63.96 215.75,84.10 215.93,51.16 216.11,96.60 216.30,56.86 216.48,81.29 216.66,72.68 216.84,97.88 217.02,66.19 217.20,88.36 217.39,62.40 217.57,81.32 217.75,59.24 217.93,90.36 218.11,61.34 218.30,85.43 218.48,61.10 218.66,85.18 218.84,57.97 219.02,98.26 219.20,47.50 219.39,93.84 219.57,60.35 219.75,81.28 219.93,59.00 220.11,88.12 220.30,64.30 220.48,88.00 220.66,73.76 220.84,86.16 221.02,60.54 221.20,99.67 221.39,69.51 221.57,83.52 221.75,55.32 221.93,83.63 222.11,51.24 222.30,89.92 222.48,71.45 222.66,96.13 222.84,54.16 223.02,81.07 223.20,55.21 223.39,87.47 223.57,55.82 223.75,86.76 223.93,73.97 224.11,92.54 224.29,59.69 224.48,102.97 224.66,54.50 224.84,93.73 225.02,67.40 225.20,85.75 225.39,67.77 225.57,83.72 225.75,67.62 225.93,81.01 226.11,47.50 226.29,89.06 226.48,48.71 226.66,94.36 226.84,68.85 227.02,93.18 227.20,73.79 227.39,85.43 227.57,73.89 227.75,99.38 227.93,61.28 228.11,81.64 228.29,65.63 228.48,96.45 228.66,61.63 228.84,92.67 229.02,71.00 229.20,85.60 229.39,64.13 229.57,96.87 229.75,70.65 229.93,82.26 230.11,56.19 230.29,83.71 230.48,56.46 230.66,92.46 230.84,57.73 231.02,103.81 231.20,59.00 231.39,96.73 231.57,71.00 231.75,85.71 231.93,59.08 232.11,102.76 232.29,53.27 232.48,108.87 232.66,61.47 232.84,92.73 233.02,56.07 233.20,91.34 233.39,64.27 233.57,83.13 233.75,56.14 233.93,82.94 234.11,59.84 234.29,81.61 234.48,55.38 234.66,83.26 234.84,57.37 235.02,81.59 235.20,40.50 235.38,100.08 235.57,70.09 235.75,91.54 235.93,67.64 236.11,81.54 236.29,61.74 236.48,94.16 236.66,72.46 236.84,95.14 237.02,70.15 237.20,83.28 237.38,64.21 237.57,85.65 237.75,47.31 237.93,81.45 238.11,58.90 238.29,97.91 238.48,73.57 238.66,121.50 238.84,60.30 239.02,87.02 239.20,61.64 239.38,98.90 239.57,39.50 239.75,82.73 239.93,73.59 240.11,92.05 240.29,71.27 240.48,92.86 240.66,62.72 240.84,81.43 241.02,51.69 241.20,98.62 241.38,58.09 241.57,81.89 241.75,67.34 241.93,86.64 242.11,67.36 242.29,82.37 242.48,60.98 242.66,92.51 242.84,61.44 243.02,87.05 243.20,54.43 243.38,92.30 243.57,73.48 243.75,86.09 243.93,64.50 244.11,98.24 244.29,66.32 244.47,89.07 244.66,69.06 244.84,96.00 245.02,67.43 245.20,86.39 245.38,69.67 245.57,95.13 245.75,68.11 245.93,81.52 246.11,59.46 246.29,85.57 246.47,61.53 246.66,93.55 246.84,55.32 247.02,98.42 247.20,68.61 247.38,89.36 247.57,73.59 247.75,102.72 247.93,61.37 248.11,100.45 248.29,67.00 248.47,81.32 248.66,53.91 248.84,90.77 249.02,64.02 249.20,90.36 249.38,60.59 249.57,93.54 249.75,73.82 249.93,117.50 250.11,68.97 250.29,86.41 250.47,53.78 250.66,95.67 250.84,67.85 251.02,81.06 251.20,64.61 251.38,92.84 251.57,66.30 251.75,81.01 251.93,46.50 252.11,80.99 252.29,64.49 252.47,94.43 252.66,59.26 252.84,84.30 253.02,64.42 253.20,92.65 253.38,69.27 253.57,88.09 253.75,52.11 253.93,90.42 254.11,60.13 254.29,86.29 254.47,65.57 254.66,81.01 254.84,65.94 255.02,97.15 255.20,51.76 255.38,97.32 255.56,61.01 255.75,89.80 255.93,69.56 256.11,88.46 256.29,61.24 256.47,84.28 256.66,58.90 256.84,82.97 257.02,73.81 257.20,82.82 257.38,73.78 257.56,81.24 257.75,57.02 257.93,88.65 258.11,63.34 258.29,98.40 258.47,55.81 258.66,86.62 258.84,55.18 259.02,93.08 259.20,64.64 259.38,93.57 259.56,73.63 259.75,84.70 259.93,65.35 260.11,94.89 260.29,67.25 260.47,129.90 260.66,57.45 260.84,100.79 261.02,58.92 261.20,99.74 261.38,67.48 261.56,88.23 261.75,62.22 261.93,88.26 262.11,68.25 262.29,102.44 262.47,66.05 262.66,83.39 262.84,61.09 263.02,103.65 263.20,23.50 263.38,99.22 263.56,67.84 263.75,86.76 263.93,69.67 264.11,89.25 264.29,51.55 264.47,81.97 264.65,53.01 264.84,83.02 265.02,66.43 265.20,96.23 265.38,60.24 265.56,92.27 265.75,73.67 265.93,92.87 266.11,72.07 266.29,108.80 266.47,66.22 266.65,91.71 266.84,72.93 267.02,86.93 267.20,37.50 267.38,97.63 267.56,66.41 267.75,94.67 267.93,69.45 268.11,86.93 268.29,54.78 268.47,83.49 268.65,73.52 268.84,93.86 269.02,72.72 269.20,87.60" fill="none" stroke="#000" stroke-width="0.34" stroke-linejoin="round"/>
<path d="M69.40 17.50V137.80H269.20" fill="none" stroke="#5e5e5e" stroke-width="1.0"/>
<path d="M69.40 137.80v-5.0M136.00 137.80v-5.0M202.60 137.80v-5.0M269.20 137.80v-5.0M69.40 137.50h3.5M69.40 117.50h3.5M69.40 97.50h3.5M69.40 77.50h3.5M69.40 57.50h3.5M69.40 37.50h3.5M69.40 17.50h3.5" fill="none" stroke="#5e5e5e" stroke-width="1.0"/>
<text x="68.00" y="141.50" text-anchor="end" font-size="11.8">-3</text>
<text x="68.00" y="121.50" text-anchor="end" font-size="11.8">-2</text>
<text x="68.00" y="101.50" text-anchor="end" font-size="11.8">-1</text>
<text x="68.00" y="81.50" text-anchor="end" font-size="11.8">0</text>
<text x="68.00" y="61.50" text-anchor="end" font-size="11.8">1</text>
<text x="68.00" y="41.50" text-anchor="end" font-size="11.8">2</text>
<text x="68.00" y="21.50" text-anchor="end" font-size="11.8">3</text>
<text x="69.60" y="148.00" text-anchor="middle" font-size="11.8">0</text>
<text x="136.20" y="148.00" text-anchor="middle" font-size="11.8">10</text>
<text x="202.80" y="148.00" text-anchor="middle" font-size="11.8">20</text>
<text x="269.40" y="148.00" text-anchor="middle" font-size="11.8">30</text>
<text x="74.00" y="14.00" text-anchor="start" font-size="12.0">×10<tspan dy="-4.5" font-size="8">4</tspan></text>
<text x="173.40" y="158.80" text-anchor="middle" font-size="11.7">Time <tspan font-style="italic">t</tspan>(s)</text>
<text x="169.00" y="171.00" text-anchor="middle" font-size="11.8">(a) Containing a layer of gangue</text>
<text x="38.20" y="78.40" text-anchor="middle" font-size="12.0" transform="rotate(-90 38.20 78.40)">Vibration acceleration</text>
<text x="53.00" y="79.00" text-anchor="middle" font-size="12.0" transform="rotate(-90 53.00 79.00)"><tspan font-style="italic">a</tspan><tspan dy="2.5" font-size="8">g</tspan><tspan dy="-2.5">(mm/s</tspan><tspan dy="-4" font-size="8">2</tspan><tspan dy="4">)</tspan></text>
<polyline points="350.00,62.46 350.16,83.96 350.32,61.50 350.49,85.24 350.65,58.23 350.81,92.51 350.97,66.01 351.14,85.72 351.30,68.41 351.46,85.72 351.62,63.61 351.79,80.87 351.95,64.56 352.11,80.88 352.27,70.09 352.43,78.87 352.60,67.05 352.76,80.16 352.92,71.79 353.08,78.95 353.25,69.16 353.41,78.30 353.57,67.03 353.73,93.35 353.90,65.19 354.06,88.55 354.22,60.50 354.38,85.19 354.54,63.72 354.71,90.93 354.87,63.31 355.03,89.19 355.19,64.84 355.36,89.08 355.52,64.04 355.68,91.10 355.84,64.12 356.01,83.90 356.17,73.30 356.33,85.99 356.49,65.17 356.65,82.30 356.82,72.11 356.98,81.91 357.14,64.14 357.30,81.72 357.47,68.72 357.63,84.23 357.79,64.85 357.95,84.20 358.12,67.12 358.28,83.67 358.44,61.24 358.60,89.11 358.76,65.67 358.93,82.01 359.09,67.60 359.25,88.29 359.41,67.67 359.58,88.39 359.74,65.38 359.90,85.26 360.06,66.46 360.23,83.78 360.39,71.03 360.55,81.73 360.71,63.09 360.87,81.37 361.04,67.25 361.20,90.21 361.36,64.85 361.52,84.75 361.69,68.63 361.85,89.43 362.01,60.43 362.17,93.15 362.34,62.62 362.50,93.94 362.66,65.82 362.82,91.22 362.98,64.08 363.15,91.29 363.31,57.88 363.47,94.81 363.63,65.96 363.80,94.55 363.96,64.41 364.12,84.86 364.28,63.46 364.45,83.19 364.61,62.28 364.77,90.79 364.93,62.61 365.09,92.11 365.26,63.42 365.42,88.81 365.58,68.93 365.74,86.90 365.91,68.57 366.07,83.15 366.23,68.67 366.39,82.56 366.56,72.91 366.72,78.59 366.88,71.16 367.04,81.88 367.20,69.20 367.37,84.72 367.53,64.29 367.69,86.56 367.85,65.71 368.02,83.06 368.18,68.38 368.34,84.24 368.50,66.04 368.67,84.59 368.83,68.18 368.99,82.75 369.15,67.35 369.31,83.02 369.48,69.01 369.64,81.85 369.80,71.69 369.96,79.03 370.13,70.10 370.29,82.24 370.45,69.47 370.61,82.78 370.78,60.65 370.94,83.27 371.10,66.59 371.26,85.98 371.42,70.20 371.59,83.62 371.75,65.52 371.91,83.84 372.07,68.29 372.24,83.51 372.40,68.54 372.56,85.86 372.72,67.39 372.89,84.52 373.05,64.40 373.21,90.66 373.37,62.80 373.53,89.80 373.70,71.39 373.86,90.19 374.02,59.11 374.18,88.44 374.35,68.14 374.51,81.93 374.67,66.67 374.83,82.17 375.00,63.68 375.16,85.17 375.32,59.84 375.48,94.52 375.64,70.56 375.81,89.73 375.97,66.51 376.13,81.99 376.29,67.58 376.46,85.18 376.62,62.04 376.78,81.88 376.94,60.31 377.11,94.82 377.27,62.57 377.43,87.73 377.59,66.42 377.75,81.60 377.92,65.35 378.08,86.38 378.24,63.38 378.40,95.36 378.57,61.07 378.73,90.50 378.89,55.95 379.05,83.70 379.22,67.77 379.38,85.36 379.54,68.41 379.70,85.20 379.86,69.60 380.03,85.66 380.19,66.37 380.35,84.15 380.51,69.36 380.68,84.99 380.84,65.67 381.00,81.68 381.16,65.39 381.33,88.59 381.49,63.33 381.65,93.86 381.81,59.34 381.97,84.24 382.14,65.39 382.30,82.48 382.46,66.36 382.62,81.39 382.79,65.96 382.95,85.36 383.11,63.42 383.27,85.77 383.44,69.62 383.60,93.01 383.76,64.94 383.92,92.46 384.08,61.94 384.25,91.19 384.41,55.38 384.57,90.38 384.73,57.63 384.90,82.33 385.06,62.78 385.22,84.01 385.38,68.33 385.55,83.08 385.71,67.82 385.87,87.19 386.03,72.21 386.19,84.29 386.36,69.18 386.52,87.05 386.68,68.50 386.84,85.68 387.01,67.60 387.17,87.82 387.33,62.10 387.49,85.01 387.66,65.85 387.82,80.81 387.98,67.61 388.14,83.82 388.30,71.27 388.47,82.00 388.63,74.24 388.79,77.57 388.95,73.46 389.12,79.33 389.28,71.45 389.44,80.44 389.60,70.47 389.77,83.32 389.93,69.95 390.09,80.31 390.25,71.04 390.41,88.97 390.58,73.16 390.74,84.98 390.90,60.71 391.06,88.61 391.23,66.99 391.39,87.81 391.55,60.82 391.71,91.42 391.88,67.74 392.04,89.12 392.20,64.01 392.36,90.90 392.52,59.25 392.69,86.50 392.85,68.93 393.01,89.41 393.17,57.63 393.34,89.58 393.50,64.08 393.66,94.01 393.82,68.67 393.99,88.60 394.15,67.81 394.31,84.92 394.47,67.44 394.63,86.46 394.80,71.09 394.96,80.68 395.12,72.95 395.28,82.25 395.45,70.47 395.61,83.58 395.77,70.72 395.93,82.68 396.10,65.60 396.26,83.32 396.42,66.03 396.58,85.89 396.74,67.42 396.91,81.20 397.07,61.60 397.23,88.05 397.39,60.10 397.56,80.66 397.72,69.68 397.88,80.08 398.04,67.12 398.21,91.02 398.37,62.17 398.53,87.93 398.69,61.98 398.85,93.58 399.02,61.68 399.18,93.83 399.34,59.23 399.50,80.89 399.67,64.29 399.83,91.16 399.99,67.66 400.15,83.89 400.32,68.77 400.48,83.59 400.64,63.24 400.80,84.29 400.96,69.69 401.13,78.28 401.29,69.33 401.45,78.95 401.61,72.23 401.78,86.18 401.94,65.01 402.10,79.73 402.26,63.86 402.43,86.85 402.59,68.25 402.75,88.25 402.91,70.24 403.07,83.23 403.24,68.89 403.40,83.98 403.56,60.61 403.72,82.70 403.89,68.66 404.05,83.26 404.21,64.94 404.37,85.13 404.54,62.26 404.70,84.68 404.86,68.54 405.02,86.15 405.18,63.45 405.35,84.42 405.51,63.39 405.67,92.12 405.83,68.08 406.00,83.86 406.16,66.59 406.32,80.01 406.48,72.75 406.65,78.13 406.81,71.81 406.97,80.68 407.13,70.84 407.29,82.07 407.46,66.38 407.62,84.50 407.78,71.96 407.94,82.13 408.11,69.33 408.27,83.69 408.43,69.34 408.59,81.87 408.76,68.82 408.92,79.66 409.08,67.67 409.24,81.97 409.40,68.31 409.57,79.84 409.73,70.92 409.89,79.79 410.05,71.87 410.22,83.02 410.38,70.52 410.54,83.01 410.70,71.57 410.87,82.04 411.03,73.14 411.19,80.04 411.35,71.70 411.51,81.71 411.68,70.11 411.84,81.43 412.00,67.45 412.16,83.70 412.33,66.20 412.49,86.85 412.65,66.32 412.81,85.26 412.98,63.56 413.14,86.11 413.30,62.33 413.46,91.42 413.62,62.05 413.79,84.55 413.95,70.45 414.11,83.65 414.27,68.39 414.44,86.49 414.60,68.04 414.76,85.02 414.92,62.34 415.09,86.05 415.25,63.86 415.41,95.23 415.57,56.94 415.73,91.42 415.90,61.65 416.06,84.89 416.22,61.29 416.38,87.78 416.55,63.79 416.71,85.02 416.87,65.11 417.03,85.90 417.20,63.89 417.36,91.82 417.52,63.17 417.68,81.37 417.84,68.20 418.01,81.10 418.17,68.45 418.33,86.85 418.49,65.06 418.66,83.98 418.82,64.26 418.98,84.75 419.14,68.62 419.31,83.54 419.47,65.38 419.63,96.21" fill="none" stroke="#000" stroke-width="0.5" stroke-linejoin="round"/>
<polyline points="350.00,48.51 350.21,81.69 350.42,60.58 350.63,97.47 350.85,66.10 351.06,90.75 351.27,41.53 351.48,99.12 351.69,64.24 351.90,132.25 352.12,53.68 352.33,95.85 352.54,57.76 352.75,93.14 352.96,64.12 353.17,89.33 353.39,49.59 353.60,92.83 353.81,49.82 354.02,90.48 354.23,70.80 354.44,90.61 354.66,57.67 354.87,94.58 355.08,58.60 355.29,88.30 355.50,50.69 355.71,89.31 355.93,54.68 356.14,91.55 356.35,64.99 356.56,101.21 356.77,70.46 356.98,88.75 357.20,55.50 357.41,91.72 357.62,53.45 357.83,109.06 358.04,60.18 358.25,106.68 358.47,58.67 358.68,93.36 358.89,63.61 359.10,90.01 359.31,53.27 359.52,97.89 359.74,57.00 359.95,90.46 360.16,52.83 360.37,84.51 360.58,58.93 360.79,93.22 361.01,61.94 361.22,95.65 361.43,60.88 361.64,89.90 361.85,46.16 362.06,99.06 362.28,49.86 362.49,112.09 362.70,51.39 362.91,99.05 363.12,50.09 363.33,108.16 363.55,58.68 363.76,95.66 363.97,48.58 364.18,81.28 364.39,65.67 364.60,93.91 364.81,54.32 365.03,90.38 365.24,51.76 365.45,100.53 365.66,60.57 365.87,101.01 366.08,48.95 366.30,95.52 366.51,63.97 366.72,100.68 366.93,59.74 367.14,90.64 367.35,58.43 367.57,89.66 367.78,53.59 367.99,96.39 368.20,53.00 368.41,95.23 368.62,63.51 368.84,91.32 369.05,55.01 369.26,89.99 369.47,44.64 369.68,90.80 369.89,39.51 370.11,97.89 370.32,55.74 370.53,91.91 370.74,60.70 370.95,94.30 371.16,55.16 371.38,96.12 371.59,60.91 371.80,94.55 372.01,54.83 372.22,119.14 372.43,15.32 372.65,87.90 372.86,63.03 373.07,91.54 373.28,57.77 373.49,97.93 373.70,55.19 373.92,92.47 374.13,58.21 374.34,103.08 374.55,61.53 374.76,95.28 374.97,49.12 375.19,95.74 375.40,69.33 375.61,96.12 375.82,59.75 376.03,93.51 376.24,51.25 376.46,97.07 376.67,58.73 376.88,99.73 377.09,54.48 377.30,95.24 377.51,55.15 377.73,96.22 377.94,58.87 378.15,92.05 378.36,56.63 378.57,89.13 378.78,64.29 378.99,102.64 379.21,58.19 379.42,94.69 379.63,46.57 379.84,94.93 380.05,56.71 380.26,95.10 380.48,61.71 380.69,100.12 380.90,61.13 381.11,100.56 381.32,68.41 381.53,88.15 381.75,51.60 381.96,93.31 382.17,61.38 382.38,96.12 382.59,63.66 382.80,94.21 383.02,70.37 383.23,91.04 383.44,61.74 383.65,96.34 383.86,53.53 384.07,88.50 384.29,49.82 384.50,108.06 384.71,69.76 384.92,80.89 385.13,50.76 385.34,92.13 385.56,62.49 385.77,88.53 385.98,64.92 386.19,99.31 386.40,59.79 386.61,101.41 386.83,60.48 387.04,80.69 387.25,55.20 387.46,90.17 387.67,60.77 387.88,100.02 388.10,60.91 388.31,97.97 388.52,59.57 388.73,88.23 388.94,56.90 389.15,89.06 389.37,53.09 389.58,97.19 389.79,46.57 390.00,95.53 390.21,56.22 390.42,91.06 390.64,54.30 390.85,91.46 391.06,55.56 391.27,87.76 391.48,58.11 391.69,95.30 391.90,62.75 392.12,90.98 392.33,61.18 392.54,97.51 392.75,62.04 392.96,96.14 393.17,49.20 393.39,95.91 393.60,66.81 393.81,112.09 394.02,51.42 394.23,92.61 394.44,50.78 394.66,98.05 394.87,46.57 395.08,93.05 395.29,59.98 395.50,93.19 395.71,56.47 395.93,97.92 396.14,54.25 396.35,93.07 396.56,56.32 396.77,97.23 396.98,66.41 397.20,90.32 397.41,61.47 397.62,93.67 397.83,58.38 398.04,93.30 398.25,61.99 398.47,98.74 398.68,55.25 398.89,84.96 399.10,56.94 399.31,87.92 399.52,50.60 399.74,91.71 399.95,59.61 400.16,94.66 400.37,58.66 400.58,93.65 400.79,48.96 401.01,95.06 401.22,53.25 401.43,109.06 401.64,63.51 401.85,102.65 402.06,54.57 402.28,98.37 402.49,63.19 402.70,97.36 402.91,56.51 403.12,89.94 403.33,46.84 403.55,95.60 403.76,60.31 403.97,93.48 404.18,47.58 404.39,98.19 404.60,56.31 404.82,98.51 405.03,51.85 405.24,85.86 405.45,61.93 405.66,87.34 405.87,58.97 406.08,99.49 406.30,56.13 406.51,86.81 406.72,60.93 406.93,97.47 407.14,62.09 407.35,91.78 407.57,57.70 407.78,82.95 407.99,55.10 408.20,94.30 408.41,56.03 408.62,87.51 408.84,62.91 409.05,89.67 409.26,57.32 409.47,107.05 409.68,57.78 409.89,102.99 410.11,51.11 410.32,89.48 410.53,61.68 410.74,103.22 410.95,59.62 411.16,101.63 411.38,48.57 411.59,90.97 411.80,58.99 412.01,94.72 412.22,62.26 412.43,88.73 412.65,59.44 412.86,99.58 413.07,59.59 413.28,106.04 413.49,59.59 413.70,86.71 413.92,47.90 414.13,81.49 414.34,60.58 414.55,98.29 414.76,64.99 414.97,98.59 415.19,49.13 415.40,89.82 415.61,55.41 415.82,88.29 416.03,53.69 416.24,95.37 416.46,55.52 416.67,102.83 416.88,54.13 417.09,102.54 417.30,50.60 417.51,87.48 417.73,55.69 417.94,106.04 418.15,65.70 418.36,101.75 418.57,57.19 418.78,96.01 419.00,62.82 419.21,94.13 419.42,56.32 419.63,91.71" fill="none" stroke="#000" stroke-width="0.5" stroke-linejoin="round"/>
<path d="M349.70 15.30V136.30H419.96" fill="none" stroke="#5e5e5e" stroke-width="1.0"/>
<path d="M350.00 136.30v-5.0M382.90 136.30v-5.0M416.80 136.30v-5.0M349.70 136.28h3.5M349.70 116.12h3.5M349.70 95.96h3.5M349.70 75.80h3.5M349.70 55.64h3.5M349.70 35.48h3.5M349.70 15.32h3.5" fill="none" stroke="#5e5e5e" stroke-width="1.0"/>
<text x="347.80" y="137.68" text-anchor="end" font-size="11.8">-6</text>
<text x="347.80" y="120.12" text-anchor="end" font-size="11.8">-4</text>
<text x="347.80" y="99.96" text-anchor="end" font-size="11.8">-2</text>
<text x="347.80" y="79.80" text-anchor="end" font-size="11.8">0</text>
<text x="347.80" y="59.64" text-anchor="end" font-size="11.8">2</text>
<text x="347.80" y="39.48" text-anchor="end" font-size="11.8">4</text>
<text x="347.80" y="19.32" text-anchor="end" font-size="11.8">6</text>
<text x="349.50" y="146.60" text-anchor="middle" font-size="11.8">40</text>
<text x="382.50" y="146.60" text-anchor="middle" font-size="11.8">45</text>
<text x="417.00" y="146.60" text-anchor="middle" font-size="11.8">50</text>
<text x="354.50" y="11.50" text-anchor="start" font-size="12.0">×10<tspan dy="-4.5" font-size="8">4</tspan></text>
<text x="388.00" y="157.80" text-anchor="middle" font-size="11.7">Time <tspan font-style="italic">t</tspan>(s)</text>
<text x="381.30" y="171.00" text-anchor="middle" font-size="11.8">(b) Containing inclusion</text>
<text x="316.60" y="77.80" text-anchor="middle" font-size="12.0" transform="rotate(-90 316.60 77.80)">Vibration acceleration</text>
<text x="331.00" y="77.80" text-anchor="middle" font-size="12.0" transform="rotate(-90 331.00 77.80)"><tspan font-style="italic">a</tspan><tspan dy="2.5" font-size="8">g</tspan><tspan dy="-2.5">(mm/s</tspan><tspan dy="-4" font-size="8">2</tspan><tspan dy="4">)</tspan></text>
<polyline points="490.50,69.54 490.66,80.17 490.82,65.92 490.98,83.17 491.13,74.46 491.29,84.78 491.45,69.15 491.61,91.26 491.77,69.10 491.93,89.74 492.09,70.21 492.24,93.01 492.40,68.27 492.56,88.18 492.72,73.72 492.88,83.24 493.04,74.25 493.20,83.67 493.35,69.62 493.51,81.71 493.67,70.80 493.83,85.32 493.99,70.05 494.15,89.30 494.31,66.37 494.46,86.17 494.62,62.04 494.78,93.55 494.94,70.30 495.10,86.45 495.26,67.63 495.42,86.16 495.58,70.19 495.73,89.83 495.89,64.07 496.05,91.50 496.21,65.91 496.37,98.39 496.53,57.33 496.69,88.80 496.84,65.54 497.00,93.59 497.16,69.17 497.32,89.25 497.48,67.61 497.64,84.56 497.80,69.79 497.95,81.42 498.11,71.48 498.27,80.16 498.43,65.51 498.59,87.96 498.75,67.70 498.91,84.87 499.06,69.51 499.22,84.74 499.38,72.15 499.54,82.04 499.70,74.98 499.86,81.49 500.02,74.57 500.17,79.71 500.33,75.25 500.49,81.46 500.65,72.34 500.81,80.17 500.97,69.05 501.13,87.02 501.28,70.59 501.44,85.43 501.60,67.04 501.76,93.17 501.92,66.15 502.08,86.22 502.24,62.83 502.39,81.99 502.55,65.28 502.71,92.20 502.87,66.46 503.03,89.40 503.19,66.81 503.35,88.52 503.51,68.51 503.66,83.53 503.82,70.43 503.98,84.44 504.14,68.15 504.30,87.35 504.46,70.11 504.62,82.62 504.77,72.02 504.93,84.72 505.09,65.71 505.25,87.02 505.41,68.89 505.57,84.07 505.73,66.82 505.88,86.45 506.04,69.42 506.20,86.20 506.36,64.19 506.52,85.91 506.68,64.26 506.84,88.76 506.99,70.21 507.15,84.91 507.31,73.51 507.47,80.17 507.63,74.19 507.79,80.09 507.95,73.30 508.10,81.14 508.26,73.23 508.42,84.06 508.58,75.37 508.74,87.11 508.90,73.16 509.06,88.58 509.21,69.90 509.37,87.74 509.53,64.44 509.69,81.35 509.85,69.73 510.01,84.09 510.17,74.78 510.32,85.89 510.48,69.60 510.64,85.14 510.80,69.34 510.96,101.44 511.12,66.04 511.28,83.55 511.44,67.48 511.59,89.82 511.75,66.01 511.91,88.86 512.07,70.82 512.23,87.03 512.39,71.97 512.55,80.50 512.70,74.06 512.86,81.73 513.02,70.31 513.18,85.63 513.34,69.76 513.50,87.81 513.66,65.12 513.81,97.98 513.97,67.10 514.13,92.14 514.29,62.51 514.45,85.47 514.61,66.66 514.77,87.08 514.92,70.54 515.08,86.08 515.24,68.88 515.40,85.60 515.56,72.00 515.72,83.90 515.88,66.45 516.03,81.94 516.19,69.84 516.35,86.83 516.51,70.04 516.67,85.58 516.83,71.08 516.99,84.30 517.14,70.41 517.30,82.01 517.46,72.30 517.62,82.59 517.78,72.55 517.94,83.75 518.10,73.04 518.25,86.65 518.41,65.64 518.57,89.46 518.73,66.64 518.89,82.83 519.05,66.52 519.21,83.22 519.36,70.15 519.52,89.80 519.68,72.03 519.84,88.43 520.00,67.66 520.16,86.38 520.32,70.64 520.48,88.25 520.63,69.35 520.79,90.18 520.95,64.14 521.11,83.04 521.27,69.33 521.43,86.11 521.59,71.60 521.74,83.40 521.90,68.68 522.06,85.02 522.22,73.82 522.38,83.53 522.54,69.40 522.70,81.62 522.85,73.12 523.01,86.01 523.17,70.02 523.33,80.08 523.49,74.23 523.65,84.95 523.81,72.36 523.96,86.63 524.12,67.64 524.28,92.50 524.44,73.41 524.60,81.83 524.76,69.12 524.92,94.31 525.07,66.38 525.23,82.44 525.39,66.17 525.55,89.05 525.71,68.91 525.87,85.74 526.03,67.23 526.18,89.41 526.34,69.04 526.50,86.49 526.66,69.94 526.82,84.46 526.98,71.55 527.14,87.07 527.29,69.13 527.45,86.27 527.61,65.01 527.77,88.60 527.93,65.85 528.09,81.76 528.25,68.61 528.41,83.10 528.56,72.63 528.72,82.28 528.88,68.43 529.04,85.67 529.20,72.60 529.36,81.37 529.52,71.91 529.67,81.94 529.83,70.14 529.99,79.94 530.15,75.70 530.31,81.43 530.47,72.75 530.63,83.15 530.78,69.93 530.94,88.33 531.10,71.54 531.26,83.09 531.42,74.40 531.58,85.03 531.74,68.51 531.89,84.22 532.05,66.98 532.21,85.71 532.37,64.95 532.53,87.07 532.69,71.78 532.85,84.11 533.00,73.33 533.16,81.13 533.32,68.53 533.48,89.02 533.64,61.33 533.80,88.26 533.96,66.62 534.11,85.60 534.27,60.78 534.43,91.77 534.59,67.55 534.75,91.50 534.91,64.68 535.07,81.88 535.22,64.81 535.38,88.05 535.54,68.76 535.70,85.97 535.86,63.06 536.02,90.33 536.18,65.09 536.33,82.11 536.49,72.31 536.65,85.15 536.81,73.90 536.97,82.28 537.13,74.45 537.29,90.28 537.45,65.19 537.60,89.24 537.76,65.62 537.92,87.81 538.08,66.45 538.24,93.64 538.40,66.13 538.56,99.22 538.71,63.51 538.87,89.89 539.03,53.31 539.19,93.73 539.35,58.29 539.51,90.92 539.67,73.25 539.82,92.44 539.98,70.79 540.14,91.99 540.30,72.09 540.46,81.92 540.62,65.47 540.78,90.39 540.93,65.51 541.09,84.73 541.25,62.65 541.41,83.71 541.57,68.09 541.73,85.20 541.89,69.30 542.04,88.32 542.20,71.05 542.36,86.66 542.52,68.13 542.68,81.10 542.84,72.53 543.00,84.43 543.15,71.08 543.31,86.12 543.47,74.40 543.63,86.92 543.79,68.30 543.95,84.45 544.11,73.32 544.26,84.92 544.42,71.33 544.58,86.34 544.74,69.94 544.90,87.56 545.06,69.90 545.22,91.28 545.38,74.43 545.53,85.00 545.69,64.00 545.85,84.04 546.01,61.56 546.17,85.74 546.33,63.76 546.49,86.87 546.64,66.48 546.80,90.66 546.96,65.71 547.12,87.87 547.28,58.64 547.44,88.24 547.60,70.49 547.75,89.67 547.91,66.28 548.07,89.38 548.23,64.30 548.39,83.59 548.55,65.46 548.71,90.66 548.86,66.92 549.02,89.79 549.18,73.94 549.34,87.26 549.50,59.45 549.66,82.37 549.82,68.79 549.97,88.36 550.13,66.21 550.29,91.48 550.45,73.44 550.61,86.51 550.77,66.32 550.93,82.75 551.08,68.62 551.24,91.73 551.40,65.01 551.56,87.79 551.72,74.85 551.88,86.08 552.04,67.21 552.19,86.07 552.35,67.98 552.51,96.71 552.67,68.51 552.83,83.94 552.99,68.20 553.15,84.56 553.31,71.27 553.46,83.47 553.62,70.36 553.78,83.64 553.94,73.78 554.10,83.57 554.26,69.70 554.42,83.68 554.57,67.22 554.73,87.15 554.89,72.02 555.05,86.54 555.21,63.53 555.37,90.87 555.53,68.51 555.68,89.18 555.84,70.49 556.00,82.15 556.16,68.02 556.32,85.78 556.48,68.92 556.64,84.63 556.79,69.76 556.95,83.28 557.11,69.69 557.27,86.03 557.43,70.92 557.59,85.80 557.75,74.60 557.90,82.29 558.06,68.58 558.22,86.48 558.38,71.76 558.54,82.14 558.70,74.83 558.86,82.40 559.01,71.57 559.17,80.40 559.33,70.31 559.49,85.38 559.65,69.02 559.81,82.58 559.97,68.29 560.12,81.59 560.28,66.53 560.44,85.17 560.60,72.78 560.76,88.29 560.92,66.79 561.08,84.02 561.23,63.49 561.39,83.01 561.55,69.35 561.71,86.67 561.87,75.67 562.03,85.26 562.19,71.33 562.35,84.77 562.50,71.69 562.66,89.02 562.82,69.65 562.98,86.74 563.14,65.56 563.30,86.03 563.46,57.71 563.61,84.79 563.77,68.47 563.93,88.13 564.09,64.98 564.25,94.49 564.41,58.99 564.57,91.52 564.72,63.69 564.88,92.93 565.04,59.54 565.20,93.36 565.36,67.62 565.52,81.38 565.68,59.97 565.83,91.27 565.99,65.41 566.15,90.74 566.31,66.92 566.47,86.40 566.63,65.96 566.79,89.27 566.94,67.47 567.10,84.23 567.26,66.36 567.42,92.21 567.58,67.02 567.74,89.49 567.90,73.59 568.05,86.96 568.21,68.59 568.37,82.88 568.53,73.54 568.69,87.45 568.85,70.66 569.01,88.52 569.16,68.94 569.32,89.27 569.48,68.97 569.64,82.24 569.80,69.64 569.96,83.79 570.12,70.26 570.28,81.97 570.43,73.40 570.59,82.91 570.75,72.30 570.91,81.93 571.07,72.77 571.23,81.56 571.39,73.10 571.54,82.25 571.70,72.22 571.86,83.47 572.02,70.03 572.18,92.39 572.34,67.47 572.50,88.14 572.65,66.19 572.81,91.02 572.97,62.27 573.13,86.67 573.29,72.24 573.45,91.77 573.61,71.51 573.76,89.28 573.92,67.17 574.08,89.95 574.24,64.23 574.40,86.95 574.56,70.51 574.72,82.98 574.87,70.66 575.03,87.28 575.19,73.93 575.35,88.12 575.51,67.18 575.67,89.49 575.83,69.14 575.98,86.35 576.14,71.49 576.30,83.61 576.46,74.53 576.62,84.24 576.78,67.60 576.94,84.91 577.09,69.22 577.25,82.80 577.41,66.42 577.57,83.23 577.73,68.17 577.89,85.34 578.05,71.87 578.21,89.16 578.36,67.66 578.52,88.97 578.68,64.00 578.84,89.84 579.00,66.53 579.16,91.06 579.32,68.14 579.47,87.22 579.63,70.61 579.79,82.07 579.95,70.19 580.11,86.49 580.27,65.06 580.43,97.11 580.58,69.89 580.74,95.74 580.90,71.88 581.06,89.59 581.22,63.29 581.38,82.08 581.54,71.82 581.69,90.08 581.85,66.57 582.01,86.67 582.17,71.06 582.33,90.78 582.49,70.25 582.65,83.17 582.80,65.18 582.96,87.42 583.12,70.09 583.28,88.67 583.44,69.51 583.60,85.90 583.76,70.70 583.91,81.36 584.07,70.75 584.23,82.62 584.39,74.25 584.55,81.17 584.71,70.78 584.87,82.56 585.02,71.15 585.18,85.59 585.34,70.03 585.50,81.49 585.66,68.04 585.82,87.75 585.98,67.64 586.13,88.69 586.29,69.77 586.45,85.26 586.61,69.34 586.77,81.86 586.93,70.59 587.09,84.35 587.25,71.72 587.40,85.60 587.56,70.08 587.72,82.32 587.88,67.52 588.04,86.34 588.20,67.87 588.36,86.70 588.51,64.97 588.67,87.59 588.83,70.92 588.99,87.11 589.15,67.14 589.31,84.18 589.47,69.75 589.62,85.71 589.78,69.69 589.94,88.55 590.10,64.11 590.26,93.60 590.42,63.84 590.58,90.50 590.73,64.18 590.89,91.33 591.05,68.88 591.21,89.43 591.37,66.79 591.53,86.65 591.69,69.52 591.84,85.16 592.00,69.21 592.16,83.17 592.32,66.51 592.48,87.19 592.64,66.92 592.80,89.30 592.95,64.30 593.11,86.16 593.27,67.48 593.43,82.46 593.59,74.57 593.75,81.14 593.91,64.03 594.06,81.35 594.22,67.45 594.38,89.71 594.54,70.87 594.70,88.10 594.86,67.66 595.02,84.56 595.18,69.16 595.33,82.78 595.49,74.02 595.65,83.54 595.81,72.00 595.97,82.16 596.13,71.82 596.29,96.34 596.44,67.43 596.60,90.20 596.76,67.19 596.92,90.95 597.08,65.86 597.24,88.07 597.40,70.31 597.55,83.67 597.71,69.21 597.87,89.25 598.03,59.82 598.19,91.70 598.35,60.93 598.51,89.35 598.66,67.81 598.82,83.15 598.98,68.29 599.14,80.41 599.30,69.99 599.46,89.47 599.62,68.85 599.77,88.30 599.93,70.11 600.09,82.53 600.25,69.81 600.41,85.44 600.57,65.24 600.73,91.55 600.88,70.97 601.04,84.88 601.20,69.61 601.36,85.02 601.52,72.11 601.68,86.96 601.84,66.78 601.99,88.68 602.15,71.18 602.31,87.08 602.47,73.09 602.63,89.31 602.79,71.35 602.95,85.75 603.11,69.49 603.26,85.54 603.42,70.54 603.58,82.42 603.74,59.93 603.90,90.37 604.06,64.30 604.22,97.52 604.37,66.10 604.53,90.71 604.69,66.69 604.85,91.25 605.01,66.73 605.17,87.05 605.33,69.92 605.48,86.03 605.64,67.02 605.80,80.36 605.96,69.08 606.12,85.98 606.28,67.82 606.44,81.94 606.59,62.97 606.75,86.30 606.91,66.57 607.07,87.18 607.23,72.09 607.39,86.90 607.55,73.00 607.70,84.50 607.86,69.01 608.02,86.54 608.18,68.69 608.34,85.42 608.50,64.08 608.66,86.90 608.81,72.01 608.97,85.25 609.13,69.18 609.29,88.13 609.45,67.92 609.61,86.31 609.77,59.52 609.92,89.38 610.08,67.24 610.24,87.71 610.40,67.49 610.56,92.66 610.72,65.14 610.88,92.60 611.03,74.00 611.19,91.22 611.35,60.03 611.51,99.51 611.67,63.59 611.83,83.78 611.99,62.79 612.15,86.51 612.30,73.35 612.46,83.57 612.62,69.54 612.78,84.26 612.94,72.20 613.10,80.30 613.26,69.84 613.41,80.58 613.57,72.02 613.73,81.07 613.89,67.54 614.05,85.96 614.21,67.93 614.37,85.07 614.52,70.59 614.68,84.67 614.84,74.68 615.00,86.54 615.16,68.19 615.32,84.41 615.48,68.66 615.63,88.61 615.79,60.36 615.95,91.96 616.11,63.70 616.27,89.35 616.43,69.97 616.59,88.59 616.74,64.50 616.90,88.19 617.06,66.91 617.22,88.64 617.38,68.60 617.54,85.11 617.70,69.54 617.85,84.40 618.01,70.99 618.17,85.13 618.33,74.33 618.49,86.95 618.65,73.46 618.81,85.71 618.96,71.02 619.12,86.18 619.28,70.87 619.44,82.25 619.60,68.13 619.76,85.59 619.92,68.98 620.08,86.24 620.23,66.32 620.39,87.97 620.55,68.80 620.71,81.61 620.87,70.82 621.03,85.23 621.19,65.99 621.34,85.77 621.50,70.17 621.66,88.16 621.82,69.71 621.98,85.75 622.14,68.40 622.30,82.55 622.45,64.06 622.61,90.65 622.77,65.86 622.93,86.21 623.09,63.13 623.25,96.08 623.41,67.87 623.56,84.65 623.72,67.36 623.88,81.27 624.04,75.51 624.20,82.44 624.36,72.84 624.52,83.60 624.67,71.04 624.83,87.37 624.99,68.17 625.15,86.35 625.31,67.71 625.47,91.37 625.63,62.37 625.78,94.38 625.94,61.21 626.10,81.50 626.26,68.11 626.42,89.51 626.58,63.80 626.74,83.72 626.89,60.73 627.05,89.51 627.21,69.03 627.37,88.20 627.53,68.30 627.69,85.73 627.85,64.37 628.00,87.74 628.16,70.69 628.32,86.75 628.48,67.51 628.64,83.42 628.80,67.43 628.96,81.35 629.12,70.42 629.27,82.42 629.43,74.94 629.59,81.36 629.75,72.08 629.91,81.45 630.07,74.73 630.23,82.13 630.38,70.29 630.54,79.93 630.70,71.94 630.86,83.03 631.02,71.08 631.18,84.69 631.34,68.59 631.49,92.86 631.65,61.89 631.81,87.38 631.97,55.75 632.13,86.36 632.29,60.47 632.45,91.51 632.60,60.61 632.76,90.58 632.92,61.99 633.08,89.40 633.24,61.38 633.40,91.83 633.56,55.31 633.71,88.13 633.87,59.51 634.03,91.89 634.19,64.84 634.35,87.09 634.51,64.07 634.67,84.53 634.82,69.26 634.98,96.30 635.14,69.03 635.30,100.54 635.46,63.65 635.62,92.09 635.78,65.69 635.93,88.18 636.09,70.45 636.25,83.34 636.41,71.48 636.57,86.53 636.73,66.56 636.89,90.98 637.05,65.00 637.20,89.28 637.36,70.94 637.52,94.31 637.68,59.46 637.84,90.08 638.00,59.83 638.16,96.98 638.31,63.34 638.47,95.52 638.63,62.63 638.79,83.86 638.95,66.19 639.11,88.57 639.27,63.79 639.42,85.45 639.58,69.00 639.74,83.82 639.90,69.28 640.06,85.46 640.22,67.92 640.38,86.28 640.53,70.54 640.69,83.89 640.85,72.33 641.01,81.86 641.17,71.31 641.33,78.73 641.49,73.54 641.64,83.54 641.80,66.98 641.96,84.58 642.12,62.56 642.28,97.69 642.44,62.10 642.60,85.39 642.75,60.53 642.91,89.17 643.07,56.87 643.23,89.16 643.39,55.60 643.55,90.73 643.71,68.85 643.86,86.47 644.02,70.75 644.18,88.74 644.34,62.62 644.50,87.33 644.66,63.52 644.82,85.53 644.98,64.79 645.13,97.71 645.29,70.67 645.45,93.94 645.61,61.34 645.77,82.64 645.93,70.48 646.09,86.62 646.24,60.20 646.40,89.21 646.56,64.98 646.72,92.82 646.88,65.04 647.04,89.94 647.20,67.29 647.35,92.05 647.51,69.66 647.67,92.38 647.83,69.01 647.99,84.36 648.15,67.19 648.31,86.81 648.46,74.35 648.62,86.15 648.78,72.48 648.94,84.38" fill="none" stroke="#000" stroke-width="0.5" stroke-linejoin="round"/>
<polyline points="490.50,64.75 490.70,96.89 490.90,72.86 491.09,98.06 491.29,64.36 491.49,97.95 491.69,62.76 491.89,96.70 492.09,54.53 492.28,108.79 492.48,62.35 492.68,91.31 492.88,61.38 493.08,82.97 493.28,63.42 493.47,91.21 493.67,52.17 493.87,91.71 494.07,71.39 494.27,101.58 494.47,59.13 494.66,104.81 494.86,67.14 495.06,86.08 495.26,59.85 495.46,83.00 495.66,60.10 495.85,89.10 496.05,63.55 496.25,95.18 496.45,61.11 496.65,105.39 496.85,57.38 497.04,85.45 497.24,55.17 497.44,85.14 497.64,60.85 497.84,85.71 498.04,66.66 498.23,101.82 498.43,64.99 498.63,89.44 498.83,65.07 499.03,91.46 499.23,52.63 499.42,86.00 499.62,69.38 499.82,96.85 500.02,71.64 500.22,90.92 500.41,54.90 500.61,93.11 500.81,64.87 501.01,88.70 501.21,67.59 501.41,89.38 501.60,61.22 501.80,100.49 502.00,56.22 502.20,89.47 502.40,66.54 502.60,97.10 502.79,52.17 502.99,90.22 503.19,64.08 503.39,86.15 503.59,68.14 503.79,95.05 503.98,72.14 504.18,87.38 504.38,65.97 504.58,93.52 504.78,70.38 504.98,99.78 505.17,63.78 505.37,91.55 505.57,64.06 505.77,89.04 505.97,67.85 506.17,100.50 506.36,60.38 506.56,92.69 506.76,55.31 506.96,88.95 507.16,57.54 507.36,93.64 507.55,67.13 507.75,107.90 507.95,70.97 508.15,97.72 508.35,67.07 508.55,96.18 508.74,52.63 508.94,97.17 509.14,65.30 509.34,93.33 509.54,63.85 509.73,86.01 509.93,68.60 510.13,93.63 510.33,58.32 510.53,82.36 510.73,62.28 510.92,96.25 511.12,61.30 511.32,86.77 511.52,55.81 511.72,85.37 511.92,44.72 512.11,102.19 512.31,72.86 512.51,93.89 512.71,60.89 512.91,93.48 513.11,67.41 513.30,90.14 513.50,71.16 513.70,92.47 513.90,60.36 514.10,87.79 514.30,68.73 514.49,88.70 514.69,63.84 514.89,91.45 515.09,64.53 515.29,91.31 515.49,71.13 515.68,81.64 515.88,61.02 516.08,98.14 516.28,71.82 516.48,87.08 516.68,62.93 516.87,95.42 517.07,61.20 517.27,97.02 517.47,64.87 517.67,104.32 517.87,62.48 518.06,88.17 518.26,58.39 518.46,93.65 518.66,59.48 518.86,88.46 519.05,59.12 519.25,85.06 519.45,62.34 519.65,81.60 519.85,69.62 520.05,94.66 520.24,66.58 520.44,91.81 520.64,72.77 520.84,99.36 521.04,60.69 521.24,91.00 521.43,61.52 521.63,93.08 521.83,55.84 522.03,92.59 522.23,71.74 522.43,90.10 522.62,56.19 522.82,94.86 523.02,65.69 523.22,95.22 523.42,62.55 523.62,95.32 523.81,72.23 524.01,86.74 524.21,59.23 524.41,90.67 524.61,60.99 524.81,103.33 525.00,43.98 525.20,93.41 525.40,66.21 525.60,105.36 525.80,63.42 526.00,83.60 526.19,72.97 526.39,99.87 526.59,63.63 526.79,98.42 526.99,62.37 527.19,92.76 527.38,59.27 527.58,95.98 527.78,70.04 527.98,98.71 528.18,68.74 528.37,92.93 528.57,48.71 528.77,92.20 528.97,53.82 529.17,89.75 529.37,59.81 529.56,91.99 529.76,60.93 529.96,86.86 530.16,68.49 530.36,93.63 530.56,72.13 530.75,86.97 530.95,59.56 531.15,88.31 531.35,68.23 531.55,85.54 531.75,62.21 531.94,89.89 532.14,62.08 532.34,91.02 532.54,41.74 532.74,89.68 532.94,72.88 533.13,112.96 533.33,62.52 533.53,93.48 533.73,72.04 533.93,99.56 534.13,62.40 534.32,92.62 534.52,71.77 534.72,95.98 534.92,62.27 535.12,101.67 535.32,43.98 535.51,85.58 535.71,60.73 535.91,87.71 536.11,58.74 536.31,86.71 536.51,62.11 536.70,92.31 536.90,61.39 537.10,90.53 537.30,66.37 537.50,93.56 537.69,64.82 537.89,94.99 538.09,62.78 538.29,82.65 538.49,61.40 538.69,103.07 538.88,59.05 539.08,97.85 539.28,58.12 539.48,90.84 539.68,69.79 539.88,99.01 540.07,54.49 540.27,97.30 540.47,58.69 540.67,96.04 540.87,61.72 541.07,95.10 541.26,61.63 541.46,95.23 541.66,67.71 541.86,89.17 542.06,58.61 542.26,90.79 542.45,72.75 542.65,93.39 542.85,72.80 543.05,103.72 543.25,58.42 543.45,96.19 543.64,66.64 543.84,85.64 544.04,64.18 544.24,92.07 544.44,67.47 544.64,92.70 544.83,59.41 545.03,95.03 545.23,69.12 545.43,81.89 545.63,63.43 545.83,87.90 546.02,61.08 546.22,100.40 546.42,40.25 546.62,92.97 546.82,57.58 547.01,100.31 547.21,63.35 547.41,92.88 547.61,58.97 547.81,91.23 548.01,66.27 548.20,87.38 548.40,63.49 548.60,88.12 548.80,59.12 549.00,89.74 549.20,55.40 549.39,98.26 549.59,70.15 549.79,97.63 549.99,65.50 550.19,99.31 550.39,60.39 550.58,91.55 550.78,59.44 550.98,88.76 551.18,61.30 551.38,94.03 551.58,63.91 551.77,94.07 551.97,68.64 552.17,114.15 552.37,69.81 552.57,95.37 552.77,60.48 552.96,95.82 553.16,66.21 553.36,108.60 553.56,64.42 553.76,92.64 553.96,34.29 554.15,99.55 554.35,65.86 554.55,97.04 554.75,68.49 554.95,93.24 555.15,65.47 555.34,96.44 555.54,65.13 555.74,86.80 555.94,61.30 556.14,85.00 556.33,68.79 556.53,95.17 556.73,73.32 556.93,95.00 557.13,66.03 557.33,86.30 557.52,43.98 557.72,94.16 557.92,67.07 558.12,89.99 558.32,60.07 558.52,94.68 558.71,64.40 558.91,86.97 559.11,68.91 559.31,87.87 559.51,60.65 559.71,93.86 559.90,62.49 560.10,98.10 560.30,65.47 560.50,89.17 560.70,65.81 560.90,101.13 561.09,73.29 561.29,92.91 561.49,61.18 561.69,91.89 561.89,50.92 562.09,98.03 562.28,58.98 562.48,87.09 562.68,60.21 562.88,107.30 563.08,62.46 563.28,93.53 563.47,65.18 563.67,96.22 563.87,52.96 564.07,98.81 564.27,60.78 564.47,82.22 564.66,55.45 564.86,99.64 565.06,62.75 565.26,90.65 565.46,57.48 565.65,88.80 565.85,56.44 566.05,87.27 566.25,66.72 566.45,94.05 566.65,69.92 566.84,94.07 567.04,57.63 567.24,86.02 567.44,55.12 567.64,90.71 567.84,57.41 568.03,95.53 568.23,63.61 568.43,90.97 568.63,71.35 568.83,89.88 569.03,65.59 569.22,104.23 569.42,54.66 569.62,85.68 569.82,56.09 570.02,95.33 570.22,63.38 570.41,96.67 570.61,56.40 570.81,90.36 571.01,62.92 571.21,94.65 571.41,67.24 571.60,94.65 571.80,61.97 572.00,89.45 572.20,66.53 572.40,95.13 572.60,56.60 572.79,108.79 572.99,66.73 573.19,97.50 573.39,43.98 573.59,96.52 573.79,55.24 573.98,87.90 574.18,62.75 574.38,89.62 574.58,66.97 574.78,104.45 574.97,56.63 575.17,82.95 575.37,59.54 575.57,89.86 575.77,55.39 575.97,93.55 576.16,62.91 576.36,93.93 576.56,59.66 576.76,93.33 576.96,63.08 577.16,92.42 577.35,58.80 577.55,86.74 577.75,61.70 577.95,92.64 578.15,64.46 578.35,97.68 578.54,69.12 578.74,91.30 578.94,66.53 579.14,96.66 579.34,64.26 579.54,93.77 579.73,59.26 579.93,84.13 580.13,31.31 580.33,89.09 580.53,63.04 580.73,92.77 580.92,56.90 581.12,106.70 581.32,51.44 581.52,94.30 581.72,64.52 581.92,90.28 582.11,58.16 582.31,102.16 582.51,60.10 582.71,89.64 582.91,60.65 583.11,94.15 583.30,62.18 583.50,88.45 583.70,73.01 583.90,89.44 584.10,57.04 584.29,93.31 584.49,73.13 584.69,91.99 584.89,72.85 585.09,102.17 585.29,62.34 585.48,85.38 585.68,59.42 585.88,87.42 586.08,60.84 586.28,91.35 586.48,69.74 586.67,94.40 586.87,70.61 587.07,97.58 587.27,63.79 587.47,85.83 587.67,73.02 587.86,98.66 588.06,57.18 588.26,84.65 588.46,56.28 588.66,91.54 588.86,65.34 589.05,90.33 589.25,65.54 589.45,97.75 589.65,63.45 589.85,81.85 590.05,53.82 590.24,95.30 590.44,69.38 590.64,89.30 590.84,68.38 591.04,91.44 591.24,47.70 591.43,92.57 591.63,66.61 591.83,87.42 592.03,59.00 592.23,91.18 592.43,51.43 592.62,87.63 592.82,58.85 593.02,92.32 593.22,66.93 593.42,99.58 593.61,62.01 593.81,87.52 594.01,64.27 594.21,98.16 594.41,69.16 594.61,100.36 594.80,58.42 595.00,91.25 595.20,54.50 595.40,102.79 595.60,58.65 595.80,93.96 595.99,51.46 596.19,101.58 596.39,67.22 596.59,91.91 596.79,63.12 596.99,90.76 597.18,70.46 597.38,98.29 597.58,61.40 597.78,93.67 597.98,53.84 598.18,89.85 598.37,62.26 598.57,94.61 598.77,64.44 598.97,92.37 599.17,57.66 599.37,92.91 599.56,54.51 599.76,88.65 599.96,60.97 600.16,84.80 600.36,62.82 600.56,88.87 600.75,54.50 600.95,97.00 601.15,59.34 601.35,103.18 601.55,42.34 601.75,96.84 601.94,66.09 602.14,84.65 602.34,62.34 602.54,90.83 602.74,65.80 602.93,91.25 603.13,71.49 603.33,101.49 603.53,68.52 603.73,89.20 603.93,58.60 604.12,83.75 604.32,56.42 604.52,98.76 604.72,63.48 604.92,87.07 605.12,64.32 605.31,82.57 605.51,53.10 605.71,94.02 605.91,65.67 606.11,104.32 606.31,57.62 606.50,103.13 606.70,68.77 606.90,90.56 607.10,71.69 607.30,98.40 607.50,59.76 607.69,108.39 607.89,61.41 608.09,91.67 608.29,65.02 608.49,99.82 608.69,70.78 608.88,99.22 609.08,58.95 609.28,91.31 609.48,66.20 609.68,101.12 609.88,48.82 610.07,91.63 610.27,57.28 610.47,105.26 610.67,64.57 610.87,92.68 611.07,68.38 611.26,93.21 611.46,61.45 611.66,91.41 611.86,65.62 612.06,84.20 612.25,69.41 612.45,87.75 612.65,57.67 612.85,90.39 613.05,66.71 613.25,97.03 613.44,58.65 613.64,88.63 613.84,65.72 614.04,96.52 614.24,47.70 614.44,87.86 614.63,61.21 614.83,92.18 615.03,56.62 615.23,87.41 615.43,58.13 615.63,94.32 615.82,68.52 616.02,97.46 616.22,58.40 616.42,84.70 616.62,52.90 616.82,85.55 617.01,68.29 617.21,89.81 617.41,59.51 617.61,94.48 617.81,64.08 618.01,98.51 618.20,61.50 618.40,98.65 618.60,48.93 618.80,92.41 619.00,73.32 619.20,104.32 619.39,69.18 619.59,91.97 619.79,62.97 619.99,85.07 620.19,69.52 620.39,90.22 620.58,64.38 620.78,81.76 620.98,58.02 621.18,91.97 621.38,63.21 621.57,93.50 621.77,68.65 621.97,91.69 622.17,57.29 622.37,97.97 622.57,60.37 622.76,90.57 622.96,67.41 623.16,99.51 623.36,59.88 623.56,89.85 623.76,49.19 623.95,87.37 624.15,73.08 624.35,99.24 624.55,61.70 624.75,88.06 624.95,64.33 625.14,106.79 625.34,55.98 625.54,84.64 625.74,61.91 625.94,86.17 626.14,71.93 626.33,94.89 626.53,46.19 626.73,103.43 626.93,61.04 627.13,91.31 627.33,60.16 627.52,99.93 627.72,70.47 627.92,82.29 628.12,50.04 628.32,95.11 628.52,51.83 628.71,94.78 628.91,52.70 629.11,89.56 629.31,58.71 629.51,102.68 629.71,55.56 629.90,90.44 630.10,56.32 630.30,89.20 630.50,70.43 630.70,96.49 630.89,53.11 631.09,98.57 631.29,69.35 631.49,98.82 631.69,57.28 631.89,90.71 632.08,17.90 632.28,100.11 632.48,55.59 632.68,124.29 632.88,72.10 633.08,84.49 633.27,54.26 633.47,99.53 633.67,57.35 633.87,92.88 634.07,57.75 634.27,91.11 634.46,62.25 634.66,89.08 634.86,58.13 635.06,92.33 635.26,53.05 635.46,100.49 635.65,65.16 635.85,108.68 636.05,67.22 636.25,99.10 636.45,51.22 636.65,106.70 636.84,35.78 637.04,103.55 637.24,49.74 637.44,106.98 637.64,71.82 637.84,91.46 638.03,59.21 638.23,93.24 638.43,48.40 638.63,91.53 638.83,49.19 639.03,100.82 639.22,69.26 639.42,89.19 639.62,61.92 639.82,97.28 640.02,51.07 640.21,95.13 640.41,51.82 640.61,84.73 640.81,71.85 641.01,93.78 641.21,55.45 641.40,93.48 641.60,66.30 641.80,99.02 642.00,45.19 642.20,95.05 642.40,64.47 642.59,110.28 642.79,45.56 642.99,95.17 643.19,55.34 643.39,103.79 643.59,52.32 643.78,88.75 643.98,40.25 644.18,100.76 644.38,56.76 644.58,101.71 644.78,64.02 644.97,94.22 645.17,63.86 645.37,99.72 645.57,64.79 645.77,97.18 645.97,67.78 646.16,93.68 646.36,62.93 646.56,93.70 646.76,59.66 646.96,93.23 647.16,62.01 647.35,82.59 647.55,53.19 647.75,90.32 647.95,62.14 648.15,88.99 648.35,53.81 648.54,88.50 648.74,51.57 648.94,105.36" fill="none" stroke="#000" stroke-width="0.34" stroke-linejoin="round"/>
<path d="M490.50 17.80V137.70H650.50" fill="none" stroke="#5e5e5e" stroke-width="1.0"/>
<path d="M490.50 137.70v-5.0M537.10 137.70v-5.0M583.70 137.70v-5.0M630.30 137.70v-5.0M490.50 137.10h3.5M490.50 107.30h3.5M490.50 77.50h3.5M490.50 47.70h3.5M490.50 17.90h3.5" fill="none" stroke="#5e5e5e" stroke-width="1.0"/>
<text x="488.00" y="139.40" text-anchor="end" font-size="11.8">-4</text>
<text x="488.00" y="111.30" text-anchor="end" font-size="11.8">-2</text>
<text x="488.00" y="81.50" text-anchor="end" font-size="11.8">0</text>
<text x="488.00" y="51.70" text-anchor="end" font-size="11.8">2</text>
<text x="488.00" y="21.90" text-anchor="end" font-size="11.8">4</text>
<text x="490.20" y="148.40" text-anchor="middle" font-size="11.8">55</text>
<text x="536.80" y="148.40" text-anchor="middle" font-size="11.8">60</text>
<text x="583.40" y="148.40" text-anchor="middle" font-size="11.8">65</text>
<text x="630.00" y="148.40" text-anchor="middle" font-size="11.8">70</text>
<text x="496.70" y="14.70" text-anchor="start" font-size="12.0">×10<tspan dy="-4.5" font-size="8">4</tspan></text>
<text x="572.00" y="158.00" text-anchor="middle" font-size="11.7">Time <tspan font-style="italic">t</tspan>(s)</text>
<text x="570.00" y="170.80" text-anchor="middle" font-size="11.85">(c) Containing two layers of gangue</text>
<text x="461.50" y="78.20" text-anchor="middle" font-size="12.0" transform="rotate(-90 461.50 78.20)">Vibration acceleration</text>
<text x="475.50" y="78.20" text-anchor="middle" font-size="12.0" transform="rotate(-90 475.50 78.20)"><tspan font-style="italic">a</tspan><tspan dy="2.5" font-size="8">g</tspan><tspan dy="-2.5">(mm/s</tspan><tspan dy="-4" font-size="8">2</tspan><tspan dy="4">)</tspan></text>
<polyline points="48.40,292.53 48.90,292.27 49.40,286.44 49.90,292.42 50.40,292.20 50.91,281.92 51.41,286.06 51.91,288.18 52.41,285.12 52.91,291.31 53.41,272.52 53.91,254.25 54.41,256.33 54.92,267.30 55.42,252.18 55.92,246.42 56.42,246.07 56.92,261.21 57.42,253.51 57.92,241.20 58.42,240.50 58.92,255.99 59.43,241.53 59.93,235.98 60.43,236.88 60.93,251.64 61.43,239.29 61.93,257.30 62.43,233.76 62.93,237.59 63.44,212.66 63.94,237.70 64.44,241.20 64.94,243.40 65.44,229.49 65.94,243.29 66.44,222.58 66.94,241.28 67.45,239.58 67.95,248.10 68.45,236.98 68.95,238.67 69.45,229.34 69.95,248.20 70.45,232.22 70.95,252.64 71.45,230.60 71.96,239.72 72.46,239.73 72.96,250.80 73.46,234.69 73.96,249.55 74.46,235.72 74.96,246.95 75.46,231.52 75.97,241.83 76.47,235.70 76.97,238.36 77.47,225.36 77.97,247.00 78.47,224.67 78.97,249.57 79.47,232.98 79.97,244.75 80.48,231.26 80.98,243.44 81.48,244.07 81.98,265.56 82.48,229.17 82.98,246.86 83.48,227.33 83.98,251.90 84.49,237.19 84.99,251.50 85.49,228.28 85.99,254.39 86.49,239.65 86.99,244.33 87.49,226.18 87.99,242.92 88.50,228.63 89.00,248.33 89.50,231.83 90.00,222.93 90.50,223.11 91.00,254.43 91.50,234.96 92.00,247.70 92.50,244.11 93.01,243.64 93.51,223.13 94.01,254.45 94.51,227.84 95.01,244.56 95.51,228.84 96.01,236.16 96.51,233.23 97.02,240.44 97.52,232.91 98.02,235.53 98.52,225.54 99.02,248.67 99.52,244.34 100.02,235.44 100.52,242.15 101.02,248.45 101.53,240.87 102.03,249.34 102.53,243.93 103.03,243.10 103.53,234.44 104.03,244.14 104.53,225.15 105.03,234.90 105.54,242.59 106.04,250.47 106.54,230.99 107.04,254.54 107.54,231.68 108.04,246.52 108.54,234.35 109.04,247.48 109.54,255.99 110.05,242.78 110.55,241.25 111.05,247.90 111.55,238.03 112.05,236.57 112.55,238.87 113.05,240.84 113.55,223.27 114.06,254.59 114.56,235.98 115.06,249.33 115.56,200.48 116.06,233.14 116.56,266.78 117.06,240.61 117.56,233.56 118.07,223.80 118.57,245.16 119.07,241.05 119.57,235.84 120.07,254.21 120.57,231.41 121.07,273.56 121.57,233.59 122.07,241.20 122.58,229.80 123.08,245.94 123.58,235.25 124.08,253.37 124.58,232.69 125.08,250.68 125.58,231.96 126.08,255.12 126.59,237.25 127.09,255.72 127.59,224.45 128.09,255.31 128.59,239.47 129.09,246.21 129.59,234.11 130.09,250.68 130.59,232.28 131.10,243.95 131.60,235.37 132.10,236.54 132.60,228.70 133.10,243.25 133.60,242.05 134.10,246.05 134.60,238.69 135.11,245.32 135.61,232.60 136.11,240.76 136.61,237.93 137.11,241.58 137.61,238.57 138.11,241.13 138.61,238.08 139.11,247.95 139.62,231.96 140.12,238.08 140.62,234.80 141.12,248.46 141.62,231.89 142.12,246.45 142.62,245.10 143.12,262.78 143.63,238.64 144.13,250.92 144.63,231.59 145.13,243.54 145.63,237.52 146.13,245.23 146.63,234.03 147.13,250.81 147.64,234.92 148.14,248.95 148.64,230.08 149.14,263.82 149.64,234.36 150.14,244.66 150.64,240.44 151.14,251.37 151.64,234.36 152.15,241.56 152.65,236.68 153.15,244.04 153.65,233.57 154.15,244.30 154.65,242.41 155.15,241.04 155.65,234.93 156.16,262.78 156.66,232.79 157.16,242.60 157.66,235.59 158.16,256.48 158.66,239.71 159.16,244.77 159.66,243.22 160.16,257.76 160.67,247.81 161.17,246.43 161.67,241.57 162.17,254.80 162.67,233.82 163.17,252.21 163.67,232.69 164.17,252.34 164.68,244.47 165.18,253.68 165.68,241.55 166.18,251.01 166.68,268.87 167.18,243.23 167.68,239.16 168.18,244.06 168.69,235.44 169.19,254.83 169.69,223.76 170.19,245.22 170.69,240.96 171.19,236.58 171.69,231.54 172.19,252.02 172.69,238.96 173.20,251.26 173.70,231.48 174.20,239.08 174.70,235.38 175.20,212.66 175.70,238.60 176.20,244.68 176.70,230.95 177.21,243.56 177.71,231.55 178.21,222.58 178.71,240.82 179.21,251.28 179.71,232.97 180.21,252.81 180.71,241.52 181.21,237.70 181.72,233.10 182.22,253.69 182.72,225.46 183.22,251.07 183.72,239.97 184.22,236.57 184.72,222.31 185.22,248.91 185.73,243.35 186.23,247.84 186.73,232.63 187.23,240.47 187.73,238.88 188.23,240.42 188.73,224.86 189.23,245.91 189.73,238.25 190.24,248.72 190.74,222.16 191.24,259.64 191.74,223.33 192.24,241.69 192.74,233.69 193.24,250.34 193.74,233.88 194.25,246.50 194.75,239.53 195.25,243.69 195.75,228.57 196.25,245.76 196.75,231.72 197.25,248.93 197.75,241.02 198.26,238.25 198.76,237.91 199.26,241.67 199.76,239.58 200.26,253.24 200.76,231.19 201.26,231.46 201.76,234.09 202.26,240.66 202.77,221.86 203.27,244.58 203.77,232.98 204.27,240.89 204.77,226.06 205.27,242.60 205.77,239.86 206.27,253.09 206.78,232.09 207.28,240.64 207.78,235.17 208.28,236.41 208.78,229.86 209.28,227.85 209.78,231.55 210.28,235.18 210.78,221.66 211.29,247.24 211.79,221.64 212.29,234.61 212.79,224.35 213.29,241.30 213.79,235.26 214.29,251.83 214.79,236.57 215.30,239.69 215.80,237.78 216.30,245.58 216.80,235.62 217.30,251.98 217.80,237.41 218.30,257.56 218.80,231.05 219.31,232.75 219.81,217.88 220.31,240.10 220.81,228.61 221.31,233.15 221.81,218.13 222.31,240.75 222.81,229.56 223.31,235.60 223.82,220.85 224.32,239.41 224.82,228.33 225.32,248.16 225.82,230.57 226.32,238.37 226.82,216.84 227.32,248.16 227.83,221.79 228.33,240.60 228.83,216.84 229.33,235.51 229.83,231.26 230.33,236.05 230.83,239.00 231.33,234.88 231.83,227.76 232.34,235.57 232.84,235.25 233.34,240.08 233.84,230.22 234.34,218.23 234.84,228.47 235.34,232.11 235.84,221.61 236.35,241.12 236.85,238.49 237.35,239.47 237.85,221.79 238.35,228.64 238.85,216.84 239.35,242.02 239.85,218.33 240.35,231.92 240.86,217.19 241.36,233.57 241.86,218.18 242.36,242.21 242.86,231.04 243.36,233.39 243.86,227.61 244.36,248.16 244.87,230.58 245.37,235.81 245.87,228.58 246.37,241.55 246.87,224.87 247.37,248.16 247.87,226.82 248.37,243.46 248.88,228.95 249.38,242.39 249.88,229.15 250.38,237.68 250.88,236.95 251.38,238.47 251.88,231.34 252.38,236.07 252.88,239.43 253.39,246.49 253.89,226.49 254.39,241.45 254.89,226.80 255.39,241.29 255.89,228.77 256.39,232.13 256.89,219.97 257.40,244.34 257.90,232.15 258.40,244.99 258.90,239.28 259.40,239.78 259.90,231.70 260.40,244.23 260.90,217.85 261.40,230.82 261.91,229.08 262.41,240.64 262.91,225.48 263.41,249.30 263.91,225.67 264.41,244.03 264.91,222.06 265.41,239.27 265.92,233.11 266.42,240.75 266.92,267.47 267.42,236.86 267.92,235.98 268.42,235.90 268.92,225.94 269.42,241.29 269.92,229.38 270.43,245.93 270.93,239.14 271.43,236.50 271.93,235.32 272.43,243.20 272.93,240.95 273.43,242.18 273.93,239.52 274.44,242.98 274.94,242.51 275.44,238.15 275.94,232.32 276.44,239.51 276.94,235.41 277.44,241.68 277.94,229.81 278.45,242.45 278.95,234.04 279.45,249.97 279.95,234.69 280.45,239.08 280.95,241.60 281.45,253.74 281.95,238.49 282.45,243.88 282.96,234.80 283.46,240.75 283.96,240.94 284.46,252.10 284.96,236.54 285.46,245.37 285.96,239.43 286.46,238.24 286.97,236.00 287.47,248.26 287.97,240.67 288.47,242.89 288.97,233.47 289.47,243.16 289.97,231.40 290.47,248.17 290.97,238.07 291.48,245.36 291.98,238.37 292.48,242.38 292.98,232.98 293.48,242.26 293.98,236.30 294.48,241.11 294.98,242.13 295.49,251.94 295.99,232.06 296.49,238.31 296.99,233.66 297.49,226.06 297.99,238.86 298.49,236.68 298.99,244.68 299.50,243.82 300.00,232.28 300.50,241.78 301.00,235.32 301.50,240.24 302.00,229.56 302.50,244.32 303.00,238.79 303.50,238.68 304.01,230.72 304.51,227.28 305.01,235.53 305.51,241.93 306.01,241.44 306.51,238.42" fill="none" stroke="#2626f2" stroke-width="0.8" stroke-linejoin="round"/>
<path d="M48.40 188.90V294.20H313.70" fill="none" stroke="#707070" stroke-width="1.15"/>
<path d="M48.40 294.20v-5.0M90.23 294.20v-5.0M132.07 294.20v-5.0M173.90 294.20v-5.0M215.73 294.20v-5.0M257.57 294.20v-5.0M299.40 294.20v-5.0M48.40 293.40h4.2M48.40 258.60h4.2M48.40 223.80h4.2M48.40 189.00h4.2" fill="none" stroke="#707070" stroke-width="1.15"/>
<text x="45.60" y="297.70" text-anchor="end" font-size="12.3">0</text>
<text x="45.60" y="262.90" text-anchor="end" font-size="12.3">200</text>
<text x="45.60" y="228.10" text-anchor="end" font-size="12.3">400</text>
<text x="45.60" y="193.30" text-anchor="end" font-size="12.3">600</text>
<text x="48.70" y="305.10" text-anchor="middle" font-size="12.2">0</text>
<text x="90.53" y="305.10" text-anchor="middle" font-size="12.2">5</text>
<text x="132.37" y="305.10" text-anchor="middle" font-size="12.2">10</text>
<text x="174.20" y="305.10" text-anchor="middle" font-size="12.2">15</text>
<text x="216.03" y="305.10" text-anchor="middle" font-size="12.2">20</text>
<text x="257.87" y="305.10" text-anchor="middle" font-size="12.2">25</text>
<text x="299.70" y="305.10" text-anchor="middle" font-size="12.2">30</text>
<text x="180.50" y="320.30" text-anchor="middle" font-size="12.3">Time <tspan font-style="italic">t</tspan>(s)</text>
<text x="169.70" y="332.80" text-anchor="middle" font-size="12.4">(a) Containing a layer of gangue</text>
<text x="10.50" y="242.00" text-anchor="middle" font-size="12.5" transform="rotate(-90 10.50 242.00)">Energy released from</text>
<text x="24.50" y="241.20" text-anchor="middle" font-size="12.45" transform="rotate(-90 24.50 241.20)">coal and rock <tspan font-style="italic">E</tspan>(J)</text>
<polyline points="370.40,256.26 370.85,293.31 371.31,231.26 371.76,237.14 372.21,247.84 372.67,238.03 373.12,293.31 373.57,232.70 374.03,232.26 374.48,232.20 374.93,256.26 375.38,231.88 375.84,230.48 376.29,204.90 376.74,265.10 377.20,233.67 377.65,231.00 378.10,235.37 378.56,243.63 379.01,230.19 379.46,293.31 379.92,203.21 380.37,228.79 380.82,222.58 381.28,198.16 381.73,234.66 382.18,239.42 382.64,231.91 383.09,287.84 383.54,237.28 383.99,213.74 384.45,243.63 384.90,231.44 385.35,209.95 385.81,228.42 386.26,241.53 386.71,227.91 387.17,240.13 387.62,228.02 388.07,243.14 388.53,219.21 388.98,233.55 389.43,228.98 389.89,234.05 390.34,228.59 390.79,236.12 391.25,226.52 391.70,219.21 392.15,231.86 392.60,232.29 393.06,218.02 393.51,230.70 393.96,230.45 394.42,233.15 394.87,226.22 395.32,228.13 395.78,223.85 396.23,252.05 396.68,232.83 397.14,230.88 397.59,223.84 398.04,240.14 398.50,228.42 398.95,237.43 399.40,234.70 399.86,238.93 400.31,229.08 400.76,232.85 401.21,230.92 401.67,231.12 402.12,224.65 402.57,230.42 403.03,214.16 403.48,233.53 403.93,229.19 404.39,242.37 404.84,230.12 405.29,232.66 405.75,230.62 406.20,225.12 406.65,242.37 407.11,235.26 407.56,232.05 408.01,228.22 408.47,230.09 408.92,232.70 409.37,227.12 409.82,239.11 410.28,230.06 410.73,230.18 411.18,234.26 411.64,220.05 412.09,224.86 412.54,234.37 413.00,226.71 413.45,234.53 413.90,223.48 414.36,214.16 414.81,226.00 415.26,239.64 415.72,233.53 416.17,243.59 416.62,223.81 417.08,235.37 417.53,218.79 417.98,239.56 418.43,225.78 418.89,245.31 419.34,225.20 419.79,233.98 420.25,214.16 420.70,230.56 421.15,231.73 421.61,233.34 422.06,233.04 422.51,214.16 422.97,229.00 423.42,241.20 423.87,233.45 424.33,238.19 424.78,228.58 425.23,232.79 425.69,216.26 426.14,238.57 426.59,227.74 427.04,241.08 427.50,222.31 427.95,241.59 428.40,199.43 428.86,236.37 429.31,261.31 429.76,249.71 430.22,205.32 430.67,245.88 431.12,222.72 431.58,233.82 432.03,211.21 432.48,269.73 432.94,223.45 433.39,235.08 433.84,215.58 434.30,207.84 434.75,220.70 435.20,252.84 435.65,212.59 436.11,212.06 436.56,252.05 437.01,241.44 437.47,223.98 437.92,242.36 438.37,225.73 438.83,238.06 439.28,223.78 439.73,246.68 440.19,231.48 440.64,229.84 441.09,200.27 441.55,241.35 442.00,216.58 442.45,242.25 442.91,225.64 443.36,214.16 443.81,248.26 444.26,244.39 444.72,213.01 445.17,232.47 445.62,232.32 446.08,217.11 446.53,240.26 446.98,236.52 447.44,230.88 447.89,228.90" fill="none" stroke="#2626f2" stroke-width="0.8" stroke-linejoin="round"/>
<path d="M370.10 185.30V294.50" fill="none" stroke="#8c8c8c" stroke-width="1.5"/>
<path d="M369.35 294.00H453.10" fill="none" stroke="#707070" stroke-width="1.15"/>
<path d="M411.75 294.00v-5.0M453.10 294.00v-5.0M370.10 273.10h4.2M370.10 231.00h4.2M370.10 188.90h4.2" fill="none" stroke="#707070" stroke-width="1.15"/>
<text x="367.10" y="277.40" text-anchor="end" font-size="12.3">400</text>
<text x="367.10" y="235.30" text-anchor="end" font-size="12.3">500</text>
<text x="367.10" y="193.20" text-anchor="end" font-size="12.3">600</text>
<text x="369.90" y="305.10" text-anchor="middle" font-size="12.2">40</text>
<text x="411.25" y="305.10" text-anchor="middle" font-size="12.2">45</text>
<text x="452.60" y="305.10" text-anchor="middle" font-size="12.2">50</text>
<text x="420.00" y="320.30" text-anchor="middle" font-size="12.3">Time <tspan font-style="italic">t</tspan>(s)</text>
<text x="401.80" y="332.80" text-anchor="middle" font-size="12.4">(b) Containing inclusion</text>
<text x="330.70" y="242.00" text-anchor="middle" font-size="12.5" transform="rotate(-90 330.70 242.00)">Energy released from</text>
<text x="344.90" y="241.20" text-anchor="middle" font-size="12.45" transform="rotate(-90 344.90 241.20)">coal and rock <tspan font-style="italic">E</tspan>(J)</text>
<polyline points="515.02,248.66 515.48,257.53 515.93,233.99 516.39,244.44 516.85,242.54 517.31,256.45 517.77,247.37 518.22,253.79 518.68,239.97 519.14,264.11 519.60,241.35 520.06,243.80 520.52,229.04 520.97,253.74 521.43,242.65 521.89,257.82 522.35,244.62 522.81,248.50 523.26,217.27 523.72,246.07 524.18,265.66 524.64,253.74 525.10,247.62 525.56,232.53 526.01,248.48 526.47,281.36 526.93,238.17 527.39,257.45 527.85,246.48 528.31,258.22 528.76,235.85 529.22,268.28 529.68,240.04 530.14,259.81 530.60,244.27 531.05,252.95 531.51,236.99 531.97,259.12 532.43,254.05 532.89,264.16 533.35,230.35 533.80,251.85 534.26,244.33 534.72,247.76 535.18,247.79 535.64,262.44 536.09,251.62 536.55,253.72 537.01,232.59 537.47,256.12 537.93,236.12 538.39,250.89 538.84,229.91 539.30,269.59 539.76,238.43 540.22,251.81 540.68,243.43 541.14,254.63 541.59,280.05 542.05,247.90 542.51,239.31 542.97,251.27 543.43,230.35 543.88,256.10 544.34,242.13 544.80,256.08 545.26,225.99 545.72,243.95 546.18,239.95 546.63,246.82 547.09,245.29 547.55,260.30 548.01,272.20 548.47,245.98 548.92,247.60 549.38,252.46 549.84,235.32 550.30,208.11 550.76,250.32 551.22,257.38 551.67,240.43 552.13,274.82 552.59,253.92 553.05,254.00 553.51,216.40 553.97,248.68 554.42,280.49 554.88,248.20 555.34,242.62 555.80,259.09 556.26,258.08 556.71,262.08 557.17,247.04 557.63,254.50 558.09,243.57 558.55,253.91 559.01,243.68 559.46,258.97 559.92,231.81 560.38,259.87 560.84,241.94 561.30,257.88 561.75,248.19 562.21,252.17 562.67,242.80 563.13,244.94 563.59,232.53 564.05,247.63 564.50,239.76 564.96,254.64 565.42,239.17 565.88,249.41 566.34,252.51 566.80,261.98 567.25,241.40 567.71,250.80 568.17,241.04 568.63,258.23 569.09,241.67 569.54,264.79 570.00,253.12 570.46,255.36 570.92,247.88 571.38,257.87 571.84,248.18 572.29,250.73 572.75,251.85 573.21,252.86 573.67,246.98 574.13,254.97 574.58,236.92 575.04,244.80 575.50,244.20 575.96,247.47 576.42,243.20 576.88,252.85 577.33,239.41 577.79,247.37 578.25,248.77 578.71,249.57 579.17,237.22 579.63,246.50 580.08,243.80 580.54,248.73 581.00,233.40 581.46,251.88 581.92,242.76 582.37,260.51 582.83,242.58 583.29,251.67 583.75,247.02 584.21,248.53 584.67,239.48 585.12,254.44 585.58,266.97 586.04,251.74 586.50,241.52 586.96,244.95 587.41,247.44 587.87,248.86 588.33,235.32 588.79,252.06 589.25,243.25 589.71,245.03 590.16,232.71 590.62,248.11 591.08,233.22 591.54,239.04 592.00,238.10 592.46,228.17 592.91,234.91 593.37,246.56 593.83,259.56 594.29,250.70 594.75,231.69 595.20,243.54 595.66,233.40 596.12,242.18 596.58,229.26 597.04,238.11 597.50,236.86 597.95,237.82 598.41,237.99 598.87,245.58 599.33,236.79 599.79,233.40 600.25,239.17 600.70,236.46 601.16,240.85 601.62,220.76 602.08,238.29 602.54,241.09 602.99,237.08 603.45,240.83 603.91,235.87 604.37,241.76 604.83,237.86 605.29,254.33 605.74,238.54 606.20,238.67 606.66,240.03 607.12,243.16 607.58,236.96 608.03,239.99 608.49,235.76 608.95,237.89 609.41,234.96 609.87,244.57 610.33,241.18 610.78,241.47 611.24,232.00 611.70,245.70 612.16,236.36 612.62,241.22 613.08,233.70 613.53,239.60 613.99,234.08 614.45,239.65 614.91,233.87 615.37,238.81 615.82,232.09 616.28,242.88 616.74,238.22 617.20,242.25 617.66,235.29 618.12,238.86 618.57,235.59 619.03,240.39 619.49,235.24 619.95,241.86 620.41,233.56 620.86,240.65 621.32,236.74 621.78,237.08 622.24,232.24 622.70,240.22 623.16,236.22 623.61,252.15 624.07,235.14 624.53,236.59 624.99,234.34 625.45,237.68 625.91,235.71 626.36,239.46 626.82,238.75 627.28,254.33 627.74,227.36 628.20,228.17 628.65,229.50 629.11,240.55 629.57,240.25 630.03,232.78 630.49,231.80 630.95,248.43 631.40,230.46 631.86,239.96 632.32,236.98 632.78,237.13 633.24,260.87 633.69,228.17 634.15,236.89 634.61,242.10 635.07,227.63 635.53,252.59 635.99,237.40 636.44,228.17 636.90,239.62 637.36,241.30 637.82,232.37 638.28,261.44 638.74,229.91 639.19,246.99 639.65,230.59 640.11,244.71 640.57,233.58 641.03,238.52 641.48,232.66 641.94,237.83 642.40,223.08 642.86,212.47 643.32,223.40 643.78,254.52 644.23,276.56 644.69,218.58 645.15,236.38 645.61,248.28 646.07,247.68 646.52,224.68 646.98,285.50 647.44,257.42 647.90,245.14 648.36,242.16 648.82,229.08 649.27,221.19 649.73,222.50 650.19,251.02 650.65,225.99 651.11,238.99 651.57,266.97 652.02,244.02 652.48,238.48 652.94,246.30 653.40,235.56 653.86,250.95 654.31,234.21 654.77,245.29 655.23,238.55 655.69,213.34 656.15,222.50 656.61,241.19 657.06,239.16 657.52,228.17 657.98,247.30 658.44,263.48 658.90,240.09 659.35,249.72 659.81,233.36 660.27,247.78 660.73,231.22 661.19,253.89 661.65,222.50 662.10,241.58 662.56,226.98 663.02,254.56 663.48,226.37 663.94,247.00 664.40,252.15 664.85,247.74 665.31,236.02 665.77,245.90 666.23,231.94 666.69,255.37 667.14,249.53 667.60,240.61 668.06,224.68 668.52,243.88 668.98,238.35 669.44,249.09 669.89,236.42 670.35,212.04 670.81,228.64 671.27,252.86 671.73,236.56 672.18,260.87 672.64,227.30" fill="none" stroke="#2626f2" stroke-width="0.8" stroke-linejoin="round"/>
<path d="M514.40 188.90V294.00H674.70" fill="none" stroke="#707070" stroke-width="1.15"/>
<path d="M556.30 294.00v-5.0M598.00 294.00v-5.0M639.70 294.00v-5.0M514.40 266.10h4.2M514.40 222.50h4.2" fill="none" stroke="#707070" stroke-width="1.15"/>
<text x="511.60" y="270.40" text-anchor="end" font-size="12.3">400</text>
<text x="511.60" y="226.80" text-anchor="end" font-size="12.3">500</text>
<text x="514.90" y="305.10" text-anchor="middle" font-size="12.2">55</text>
<text x="556.60" y="305.10" text-anchor="middle" font-size="12.2">60</text>
<text x="598.30" y="305.10" text-anchor="middle" font-size="12.2">65</text>
<text x="640.00" y="305.10" text-anchor="middle" font-size="12.2">70</text>
<text x="594.50" y="320.30" text-anchor="middle" font-size="12.3">Time <tspan font-style="italic">t</tspan>(s)</text>
<text x="595.20" y="332.80" text-anchor="middle" font-size="12.35">(c) Containing two layers of gangue</text>
<text x="474.50" y="242.00" text-anchor="middle" font-size="12.5" transform="rotate(-90 474.50 242.00)">Energy released from</text>
<text x="488.50" y="241.20" text-anchor="middle" font-size="12.45" transform="rotate(-90 488.50 241.20)">coal and rock <tspan font-style="italic">E</tspan>(J)</text>
</svg>
</body></html>
